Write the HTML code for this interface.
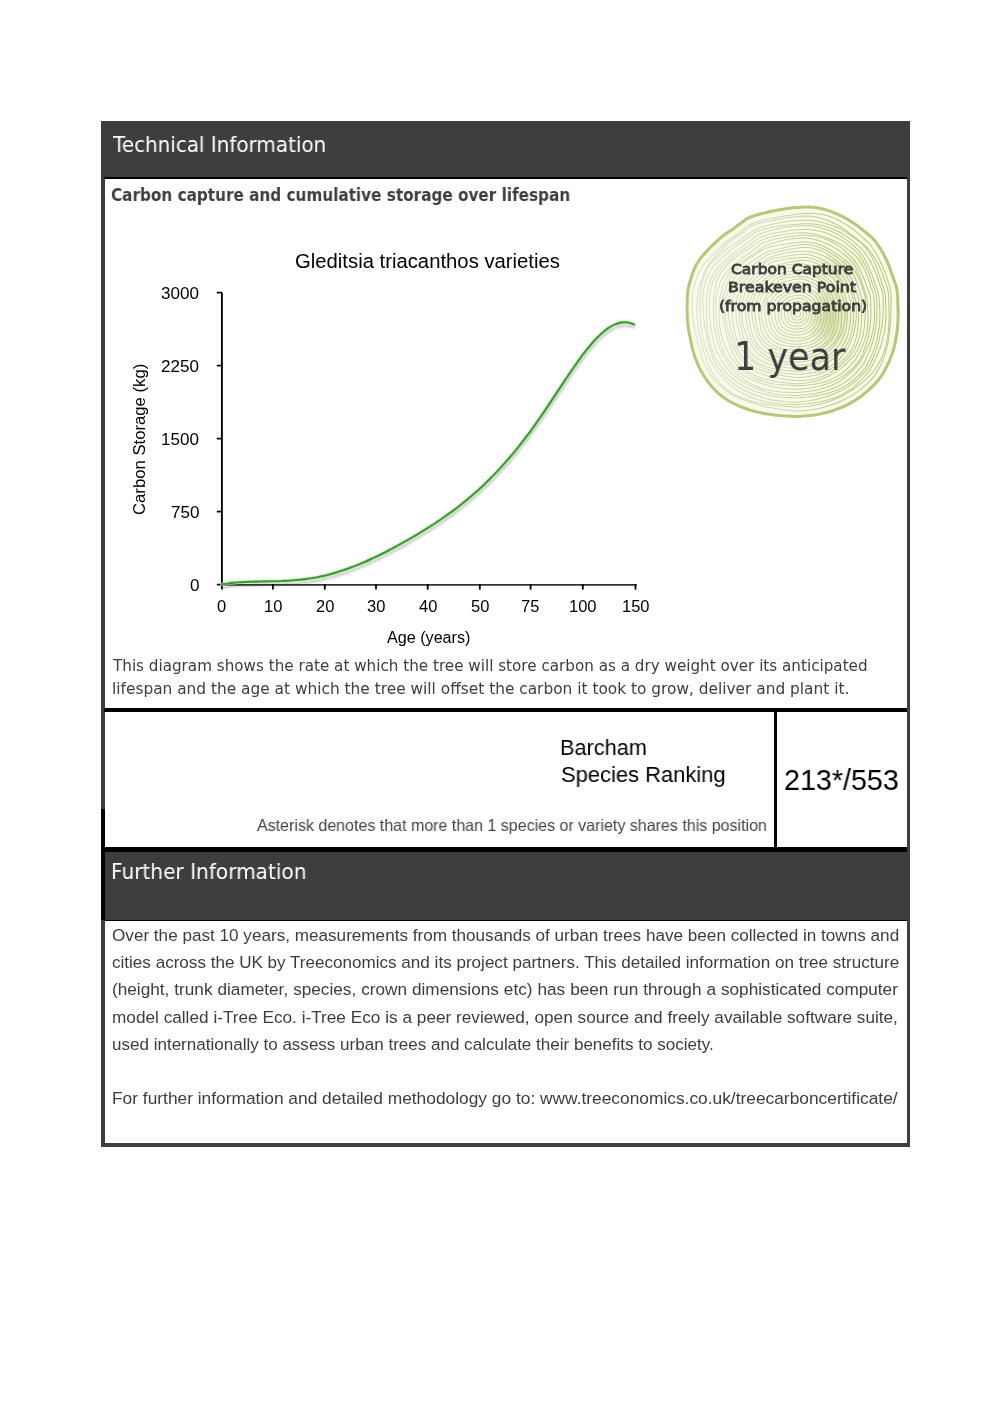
<!DOCTYPE html>
<html>
<head>
<meta charset="utf-8">
<style>
html,body{margin:0;padding:0;background:#fff;}
body{width:1004px;height:1421px;position:relative;overflow:hidden;}
.bx{position:absolute;}
.t{position:absolute;white-space:nowrap;line-height:1;transform-origin:0 0;will-change:transform;}
</style>
</head>
<body>
<!-- frame -->
<div class="bx" style="left:101px;top:121px;width:809px;height:57px;background:#3e3e3e"></div>
<div class="bx" style="left:104px;top:177px;width:803px;height:2px;background:#000"></div>
<div class="bx" style="left:101px;top:178px;width:3.5px;height:631px;background:#3e3e3e"></div>
<div class="bx" style="left:906.8px;top:178px;width:3.3px;height:969px;background:#3e3e3e"></div>
<div class="bx" style="left:104px;top:708.3px;width:803px;height:3.3px;background:#000"></div>
<div class="bx" style="left:773.6px;top:709px;width:3.3px;height:140px;background:#000"></div>
<div class="bx" style="left:101.3px;top:809px;width:3.3px;height:111px;background:#000"></div>
<div class="bx" style="left:101.3px;top:847.3px;width:805.5px;height:4.4px;background:#000"></div>
<div class="bx" style="left:104.5px;top:851.7px;width:802.5px;height:67.9px;background:#3e3e3e"></div>
<div class="bx" style="left:104.5px;top:919.6px;width:802.5px;height:1.3px;background:#000"></div>
<div class="bx" style="left:101px;top:920px;width:3.5px;height:226.6px;background:#3e3e3e"></div>
<div class="bx" style="left:101px;top:1142.9px;width:809px;height:3.7px;background:#3e3e3e"></div>
<svg class="bx" style="left:0;top:0" width="1004" height="1421" viewBox="0 0 1004 1421">
<defs><radialGradient id="gb" cx="0.5" cy="0.5" r="0.5"><stop offset="0" stop-color="#aab550" stop-opacity="0.45"/><stop offset="0.6" stop-color="#aab550" stop-opacity="0.2"/><stop offset="1" stop-color="#aab550" stop-opacity="0"/></radialGradient><linearGradient id="lg" gradientUnits="userSpaceOnUse" x1="690" y1="0" x2="900" y2="0"><stop offset="0" stop-color="#dfe1cc"/><stop offset="0.4" stop-color="#d2d6b0"/><stop offset="0.7" stop-color="#c0c884"/><stop offset="1" stop-color="#bcc47c"/></linearGradient></defs>
<path d="M687.1,312.0 687.1,306.5 687.2,300.9 687.5,295.3 688.0,289.7 689.2,284.2 690.9,278.8 692.5,273.4 694.6,268.2 697.2,263.2 700.3,258.5 704.0,254.2 707.7,250.0 711.6,246.1 715.6,242.3 719.6,238.6 723.8,235.2 728.3,232.1 732.8,229.2 737.1,225.9 741.5,222.7 745.8,219.4 750.7,217.0 755.8,215.2 761.1,213.7 766.3,212.5 771.6,211.3 776.9,210.2 782.2,209.3 787.6,208.4 793.0,207.8 798.5,207.4 804.0,207.0 809.6,207.0 815.2,207.6 820.7,208.5 826.2,209.9 831.5,211.6 836.7,213.8 841.8,216.2 846.8,218.9 851.6,221.8 856.3,224.9 860.8,228.3 865.1,231.9 869.5,235.5 873.7,239.3 877.2,243.8 880.3,248.5 883.2,253.4 885.7,258.5 888.1,263.6 890.1,268.8 891.9,274.0 893.7,279.3 895.7,284.5 897.0,289.9 897.5,295.4 897.8,301.0 897.9,306.5 898.2,312.0 898.1,317.5 897.8,323.0 897.4,328.5 896.7,334.0 895.8,339.5 894.7,345.0 893.3,350.5 891.4,355.8 889.3,361.1 886.9,366.2 884.3,371.3 881.3,376.2 877.8,380.7 874.0,384.9 869.9,388.9 865.6,392.7 861.2,396.2 856.5,399.5 851.7,402.4 846.8,405.1 841.6,407.4 836.4,409.4 831.1,411.2 825.7,412.7 820.3,413.9 814.9,414.9 809.4,415.6 803.9,416.1 798.5,416.5 793.0,416.5 787.5,416.1 782.1,415.8 776.6,415.3 771.2,414.6 765.7,413.8 760.3,412.8 754.8,411.4 749.4,409.9 744.1,408.0 738.8,405.9 733.6,403.5 728.5,400.7 723.7,397.6 719.2,394.0 715.0,390.0 711.0,385.8 707.5,381.2 704.2,376.5 701.3,371.6 698.7,366.4 696.5,361.2 694.5,355.8 692.9,350.4 691.6,344.9 690.5,339.5 689.3,334.0 688.4,328.6 687.8,323.1 687.3,317.5Z" fill="#f9faea"/>
<ellipse cx="830" cy="318" rx="24" ry="38" fill="url(#gb)"/>
<ellipse cx="840" cy="268" rx="30" ry="18" fill="url(#gb)" opacity="0.5"/>
<path d="M794.3,313.9 794.3,313.8 794.3,313.6 794.3,313.5 794.3,313.3 794.3,313.1 794.4,313.0 794.4,312.8 794.5,312.7 794.6,312.5 794.6,312.4 794.7,312.2 794.9,312.1 795.0,312.0 795.1,311.9 795.2,311.8 795.3,311.7 795.5,311.6 795.6,311.5 795.7,311.4 795.9,311.3 796.0,311.2 796.1,311.1 796.3,311.1 796.4,311.0 796.6,311.0 796.7,310.9 796.9,310.9 797.0,310.9 797.2,310.9 797.4,310.9 797.5,310.8 797.7,310.8 797.9,310.9 798.0,310.9 798.2,310.9 798.3,310.9 798.5,311.0 798.7,311.1 798.8,311.1 798.9,311.2 799.1,311.3 799.2,311.4 799.4,311.5 799.5,311.6 799.6,311.7 799.7,311.8 799.8,312.0 799.9,312.1 800.0,312.2 800.1,312.4 800.1,312.5 800.2,312.7 800.2,312.8 800.3,313.0 800.4,313.1 800.4,313.3 800.4,313.5 800.5,313.6 800.5,313.8 800.5,313.9 800.5,314.1 800.5,314.3 800.5,314.4 800.4,314.6 800.4,314.8 800.4,314.9 800.3,315.1 800.3,315.2 800.2,315.4 800.1,315.5 800.1,315.7 800.0,315.8 799.9,316.0 799.8,316.1 799.6,316.2 799.5,316.3 799.4,316.4 799.2,316.5 799.1,316.6 798.9,316.7 798.8,316.7 798.6,316.8 798.5,316.8 798.3,316.9 798.2,316.9 798.0,316.9 797.8,316.9 797.7,317.0 797.5,317.0 797.4,317.0 797.2,317.0 797.0,317.0 796.9,317.0 796.7,317.0 796.6,316.9 796.4,316.9 796.2,316.9 796.1,316.8 795.9,316.8 795.8,316.7 795.6,316.6 795.5,316.6 795.3,316.5 795.2,316.4 795.1,316.3 794.9,316.1 794.8,316.0 794.7,315.9 794.6,315.7 794.6,315.6 794.5,315.4 794.4,315.2 794.4,315.1 794.4,314.9 794.3,314.8 794.3,314.6 794.3,314.4 794.3,314.3 794.3,314.1Z" fill="none" stroke="url(#lg)" stroke-width="1.05"/>
<path d="M790.9,313.9 790.9,313.6 790.9,313.2 790.9,312.9 791.0,312.6 791.1,312.2 791.2,311.9 791.3,311.6 791.4,311.3 791.6,311.0 791.8,310.7 792.0,310.5 792.3,310.3 792.5,310.0 792.7,309.8 793.0,309.6 793.2,309.4 793.5,309.2 793.7,309.0 794.0,308.8 794.2,308.6 794.5,308.5 794.8,308.3 795.1,308.2 795.4,308.1 795.7,308.1 796.0,308.0 796.3,307.9 796.6,307.9 796.9,307.8 797.2,307.8 797.6,307.7 797.9,307.7 798.2,307.7 798.5,307.7 798.9,307.7 799.2,307.8 799.5,307.9 799.8,308.0 800.1,308.2 800.4,308.3 800.7,308.5 801.0,308.7 801.2,308.9 801.5,309.2 801.7,309.4 802.0,309.6 802.2,309.9 802.4,310.2 802.5,310.4 802.7,310.7 802.8,311.0 802.9,311.3 803.0,311.7 803.1,312.0 803.3,312.3 803.3,312.6 803.3,312.9 803.3,313.2 803.3,313.6 803.3,313.9 803.3,314.2 803.3,314.5 803.3,314.8 803.3,315.2 803.2,315.5 803.2,315.8 803.1,316.1 803.0,316.5 802.9,316.8 802.8,317.1 802.6,317.4 802.5,317.7 802.3,317.9 802.0,318.2 801.8,318.4 801.5,318.7 801.3,318.9 801.0,319.0 800.7,319.2 800.4,319.4 800.1,319.5 799.8,319.6 799.5,319.7 799.2,319.8 798.8,319.9 798.5,320.0 798.2,320.0 797.9,320.0 797.6,320.0 797.2,320.0 796.9,320.0 796.6,320.0 796.3,319.9 796.0,319.9 795.6,319.8 795.3,319.7 795.0,319.7 794.7,319.6 794.4,319.5 794.1,319.4 793.8,319.2 793.5,319.1 793.2,318.9 792.9,318.7 792.6,318.5 792.4,318.2 792.2,318.0 792.0,317.7 791.8,317.4 791.7,317.1 791.5,316.8 791.4,316.5 791.3,316.1 791.3,315.8 791.2,315.5 791.1,315.2 791.0,314.9 791.0,314.5 791.0,314.2Z" fill="none" stroke="url(#lg)" stroke-width="1.05"/>
<path d="M787.8,313.8 787.8,313.3 787.8,312.8 787.8,312.4 787.8,311.9 787.9,311.4 788.1,310.9 788.2,310.4 788.4,310.0 788.7,309.5 789.0,309.1 789.3,308.8 789.6,308.4 790.0,308.0 790.3,307.7 790.7,307.4 791.0,307.1 791.4,306.8 791.8,306.5 792.2,306.2 792.5,305.9 792.9,305.6 793.3,305.3 793.8,305.2 794.2,305.0 794.7,304.9 795.2,304.9 795.7,304.8 796.1,304.7 796.6,304.6 797.1,304.6 797.6,304.6 798.1,304.6 798.6,304.6 799.1,304.6 799.6,304.7 800.0,304.8 800.5,305.0 801.0,305.1 801.4,305.4 801.9,305.6 802.3,305.9 802.7,306.2 803.1,306.5 803.4,306.8 803.8,307.1 804.1,307.5 804.4,307.9 804.7,308.3 805.0,308.7 805.2,309.2 805.4,309.6 805.6,310.0 805.8,310.5 806.0,310.9 806.2,311.4 806.3,311.9 806.3,312.4 806.4,312.8 806.4,313.3 806.4,313.8 806.4,314.3 806.4,314.8 806.3,315.3 806.3,315.8 806.2,316.3 806.1,316.7 806.0,317.2 805.8,317.7 805.6,318.2 805.4,318.6 805.2,319.1 804.9,319.5 804.6,319.9 804.3,320.3 803.9,320.6 803.5,321.0 803.1,321.3 802.7,321.5 802.3,321.8 801.8,322.0 801.3,322.1 800.9,322.3 800.4,322.5 800.0,322.6 799.5,322.7 799.0,322.8 798.5,322.9 798.1,322.9 797.6,323.0 797.1,323.0 796.6,323.0 796.1,323.0 795.7,322.9 795.2,322.9 794.7,322.8 794.2,322.7 793.7,322.6 793.3,322.4 792.8,322.3 792.3,322.1 791.8,321.9 791.4,321.7 790.9,321.4 790.5,321.1 790.1,320.8 789.8,320.4 789.4,320.0 789.1,319.6 788.9,319.2 788.7,318.7 788.5,318.2 788.3,317.7 788.2,317.2 788.1,316.7 788.1,316.2 788.0,315.8 787.9,315.3 787.9,314.8 787.8,314.3Z" fill="none" stroke="url(#lg)" stroke-width="1.05"/>
<path d="M784.6,313.8 784.6,313.1 784.6,312.5 784.6,311.8 784.6,311.1 784.7,310.5 784.9,309.8 785.0,309.2 785.2,308.5 785.5,307.9 785.9,307.4 786.3,306.9 786.8,306.4 787.3,305.9 787.8,305.5 788.3,305.1 788.8,304.7 789.3,304.3 789.9,304.0 790.4,303.7 790.9,303.3 791.4,302.9 792.0,302.6 792.6,302.4 793.2,302.2 793.8,302.1 794.5,301.9 795.1,301.8 795.7,301.7 796.3,301.6 797.0,301.6 797.6,301.5 798.3,301.5 798.9,301.5 799.6,301.6 800.2,301.7 800.8,301.9 801.5,302.1 802.1,302.3 802.7,302.6 803.3,302.8 803.9,303.1 804.4,303.5 805.0,303.9 805.5,304.3 806.0,304.7 806.5,305.1 807.0,305.7 807.3,306.2 807.6,306.8 807.9,307.4 808.2,308.1 808.4,308.7 808.6,309.3 808.8,309.9 809.1,310.5 809.2,311.2 809.3,311.8 809.3,312.5 809.3,313.1 809.4,313.8 809.4,314.4 809.3,315.1 809.2,315.7 809.1,316.4 809.0,317.0 808.8,317.6 808.6,318.2 808.4,318.9 808.1,319.5 807.9,320.1 807.6,320.6 807.2,321.2 806.8,321.7 806.4,322.3 806.0,322.7 805.5,323.2 805.0,323.6 804.4,324.0 803.9,324.4 803.3,324.7 802.7,325.0 802.1,325.2 801.4,325.4 800.8,325.6 800.2,325.7 799.5,325.8 798.9,325.9 798.3,326.0 797.6,326.1 797.0,326.1 796.3,326.1 795.7,326.0 795.0,326.0 794.4,325.9 793.7,325.9 793.1,325.7 792.4,325.6 791.8,325.4 791.2,325.1 790.6,324.9 790.0,324.5 789.4,324.2 788.8,323.8 788.3,323.4 787.9,322.9 787.4,322.4 787.0,321.9 786.6,321.3 786.2,320.7 785.9,320.2 785.6,319.5 785.4,318.9 785.2,318.3 785.1,317.6 784.9,317.0 784.8,316.4 784.7,315.7 784.6,315.1 784.6,314.4Z" fill="none" stroke="url(#lg)" stroke-width="1.05"/>
<path d="M781.2,313.7 781.2,312.9 781.2,312.1 781.2,311.2 781.3,310.4 781.5,309.6 781.7,308.8 781.9,308.0 782.2,307.2 782.6,306.5 783.1,305.8 783.6,305.1 784.2,304.5 784.8,304.0 785.4,303.4 786.1,302.9 786.7,302.5 787.4,302.1 788.1,301.7 788.7,301.2 789.4,300.7 790.0,300.3 790.7,299.9 791.4,299.6 792.2,299.4 792.9,299.1 793.7,298.9 794.5,298.8 795.3,298.6 796.0,298.5 796.8,298.4 797.6,298.3 798.5,298.2 799.3,298.3 800.1,298.3 800.9,298.5 801.7,298.7 802.5,298.9 803.3,299.2 804.0,299.6 804.8,299.9 805.5,300.3 806.2,300.8 806.9,301.3 807.6,301.8 808.2,302.3 808.8,302.9 809.3,303.6 809.8,304.3 810.1,305.1 810.5,305.8 810.8,306.6 811.0,307.4 811.3,308.2 811.5,308.9 811.8,309.7 812.0,310.5 812.1,311.3 812.1,312.1 812.1,312.9 812.2,313.7 812.2,314.5 812.1,315.3 812.1,316.1 812.0,316.9 811.8,317.7 811.7,318.5 811.5,319.3 811.2,320.1 810.9,320.9 810.5,321.6 810.2,322.4 809.7,323.1 809.3,323.8 808.7,324.4 808.2,325.0 807.6,325.6 806.9,326.2 806.3,326.7 805.6,327.1 804.8,327.5 804.1,327.9 803.3,328.2 802.5,328.4 801.7,328.6 800.9,328.7 800.1,328.8 799.2,328.9 798.4,329.0 797.6,329.0 796.8,329.0 796.0,328.9 795.2,328.9 794.4,328.9 793.6,328.8 792.8,328.7 792.0,328.5 791.2,328.3 790.4,328.1 789.7,327.8 788.9,327.5 788.2,327.1 787.4,326.7 786.7,326.2 786.1,325.6 785.5,325.1 784.9,324.5 784.4,323.8 783.8,323.2 783.4,322.5 783.0,321.7 782.6,321.0 782.3,320.2 782.0,319.4 781.8,318.6 781.6,317.8 781.4,317.0 781.3,316.2 781.2,315.3 781.2,314.5Z" fill="none" stroke="url(#lg)" stroke-width="1.05"/>
<path d="M778.1,313.6 778.0,312.7 778.0,311.7 778.0,310.7 778.1,309.7 778.2,308.7 778.5,307.7 778.8,306.8 779.2,305.8 779.7,305.0 780.2,304.1 780.9,303.4 781.6,302.7 782.3,302.0 783.0,301.3 783.7,300.6 784.4,300.0 785.2,299.4 786.0,298.9 786.7,298.3 787.5,297.7 788.3,297.1 789.2,296.7 790.1,296.4 791.0,296.2 792.0,296.1 792.9,295.9 793.9,295.8 794.8,295.7 795.8,295.5 796.7,295.5 797.7,295.4 798.6,295.3 799.6,295.3 800.6,295.4 801.6,295.5 802.5,295.7 803.5,296.0 804.4,296.3 805.3,296.8 806.2,297.2 807.0,297.7 807.8,298.3 808.6,298.9 809.4,299.6 810.2,300.2 810.9,300.9 811.5,301.7 812.1,302.5 812.6,303.3 813.1,304.2 813.5,305.1 813.9,306.0 814.3,306.9 814.6,307.8 815.0,308.7 815.2,309.7 815.3,310.7 815.3,311.7 815.3,312.7 815.3,313.6 815.2,314.6 815.1,315.6 815.0,316.6 814.9,317.5 814.7,318.5 814.5,319.4 814.3,320.4 814.0,321.3 813.6,322.3 813.2,323.2 812.7,324.1 812.2,324.9 811.6,325.7 810.9,326.4 810.2,327.1 809.4,327.8 808.6,328.4 807.8,328.9 807.0,329.4 806.1,329.9 805.2,330.3 804.3,330.7 803.4,331.0 802.4,331.3 801.5,331.6 800.6,331.8 799.6,332.0 798.6,332.1 797.7,332.2 796.7,332.2 795.7,332.2 794.8,332.1 793.8,332.0 792.8,331.9 791.9,331.7 790.9,331.5 789.9,331.2 789.0,331.0 788.1,330.6 787.1,330.3 786.2,329.8 785.3,329.4 784.4,328.8 783.6,328.2 782.8,327.5 782.1,326.7 781.5,325.9 781.0,325.1 780.5,324.2 780.1,323.3 779.7,322.3 779.4,321.3 779.2,320.4 779.0,319.4 778.8,318.4 778.6,317.5 778.5,316.5 778.3,315.6 778.2,314.6Z" fill="none" stroke="url(#lg)" stroke-width="1.05"/>
<path d="M774.8,313.6 774.7,312.4 774.7,311.3 774.7,310.1 774.8,309.0 775.0,307.8 775.4,306.7 775.7,305.6 776.1,304.5 776.7,303.5 777.4,302.5 778.1,301.6 778.9,300.8 779.7,299.9 780.5,299.2 781.4,298.4 782.2,297.6 783.1,297.0 784.1,296.4 785.0,295.7 785.9,295.0 786.8,294.4 787.8,293.9 788.9,293.6 790.0,293.3 791.1,293.2 792.2,293.0 793.3,292.8 794.4,292.7 795.5,292.5 796.6,292.4 797.7,292.3 798.8,292.2 800.0,292.2 801.1,292.2 802.3,292.4 803.4,292.6 804.5,293.0 805.6,293.4 806.6,293.9 807.6,294.4 808.6,295.0 809.6,295.7 810.5,296.4 811.4,297.2 812.3,297.9 813.2,298.7 813.9,299.6 814.6,300.5 815.2,301.5 815.7,302.5 816.3,303.6 816.7,304.6 817.1,305.7 817.5,306.8 817.9,307.9 818.2,309.0 818.2,310.2 818.2,311.3 818.2,312.5 818.2,313.6 818.1,314.7 818.0,315.8 817.9,317.0 817.7,318.1 817.6,319.2 817.3,320.3 817.1,321.5 816.7,322.6 816.3,323.6 815.8,324.7 815.3,325.7 814.7,326.7 813.9,327.7 813.1,328.5 812.3,329.3 811.4,330.1 810.5,330.8 809.5,331.4 808.5,332.0 807.5,332.5 806.5,333.0 805.4,333.5 804.4,333.9 803.3,334.3 802.2,334.6 801.1,334.8 800.0,335.0 798.8,335.2 797.7,335.3 796.6,335.3 795.4,335.2 794.3,335.1 793.2,335.0 792.1,334.8 790.9,334.6 789.8,334.4 788.7,334.1 787.6,333.8 786.5,333.4 785.4,333.0 784.3,332.5 783.2,331.9 782.2,331.3 781.3,330.6 780.4,329.7 779.6,328.9 778.9,327.9 778.3,326.9 777.7,325.8 777.2,324.8 776.8,323.7 776.5,322.5 776.2,321.4 775.9,320.3 775.7,319.2 775.5,318.1 775.2,317.0 775.1,315.9 774.9,314.7Z" fill="none" stroke="url(#lg)" stroke-width="1.05"/>
<path d="M771.2,313.5 771.2,312.2 771.3,310.9 771.4,309.6 771.6,308.2 771.9,307.0 772.3,305.7 772.7,304.4 773.2,303.2 773.8,302.0 774.5,300.9 775.4,299.9 776.3,298.9 777.2,297.9 778.2,297.1 779.1,296.2 780.2,295.5 781.3,294.8 782.4,294.2 783.4,293.4 784.4,292.7 785.5,292.0 786.6,291.5 787.8,291.0 789.0,290.7 790.2,290.4 791.5,290.1 792.7,289.7 793.9,289.5 795.2,289.2 796.4,289.0 797.7,288.8 799.0,288.7 800.4,288.7 801.7,288.8 803.0,289.0 804.3,289.4 805.5,289.8 806.8,290.3 808.0,290.9 809.1,291.6 810.3,292.2 811.4,293.0 812.5,293.7 813.5,294.6 814.6,295.4 815.6,296.3 816.4,297.3 817.2,298.5 817.8,299.7 818.4,300.9 818.9,302.1 819.3,303.4 819.6,304.6 820.0,305.9 820.4,307.1 820.6,308.4 820.7,309.7 820.7,311.0 820.8,312.3 820.8,313.5 820.9,314.8 820.8,316.1 820.8,317.4 820.7,318.7 820.5,320.0 820.3,321.3 820.0,322.6 819.5,323.8 819.0,325.0 818.4,326.2 817.8,327.4 817.1,328.6 816.3,329.6 815.4,330.6 814.5,331.6 813.5,332.5 812.5,333.4 811.4,334.2 810.3,334.9 809.2,335.6 808.0,336.2 806.7,336.7 805.5,337.1 804.2,337.4 802.9,337.7 801.6,337.9 800.3,338.0 799.0,338.0 797.7,338.1 796.4,338.0 795.2,337.9 793.9,337.8 792.6,337.6 791.4,337.5 790.1,337.3 788.8,337.1 787.5,336.8 786.2,336.5 785.0,336.1 783.7,335.6 782.5,335.0 781.3,334.4 780.2,333.6 779.2,332.7 778.2,331.8 777.3,330.8 776.5,329.7 775.7,328.6 775.0,327.5 774.4,326.3 773.8,325.1 773.3,323.9 772.8,322.6 772.4,321.3 772.1,320.0 771.8,318.8 771.5,317.5 771.4,316.2 771.2,314.8Z" fill="none" stroke="url(#lg)" stroke-width="1.05"/>
<path d="M768.3,313.5 768.3,312.0 768.3,310.5 768.4,309.0 768.5,307.6 768.8,306.1 769.3,304.7 769.7,303.3 770.3,301.9 771.0,300.6 771.8,299.3 772.7,298.2 773.7,297.1 774.7,296.0 775.7,294.9 776.7,293.9 777.8,292.9 779.0,292.1 780.2,291.3 781.3,290.4 782.5,289.5 783.7,288.7 785.0,288.1 786.4,287.6 787.8,287.3 789.2,287.1 790.6,286.8 792.1,286.6 793.5,286.4 794.9,286.2 796.3,286.0 797.8,285.9 799.2,285.8 800.7,285.8 802.2,285.9 803.6,286.1 805.1,286.5 806.5,287.0 807.9,287.6 809.2,288.2 810.5,289.0 811.7,289.8 812.9,290.6 814.1,291.6 815.2,292.5 816.4,293.4 817.5,294.4 818.5,295.6 819.3,296.8 820.1,298.0 820.9,299.3 821.5,300.6 822.1,302.0 822.7,303.3 823.2,304.7 823.7,306.1 824.0,307.6 824.1,309.1 824.2,310.5 824.1,312.0 824.2,313.5 824.1,314.9 824.0,316.4 823.9,317.8 823.7,319.3 823.5,320.8 823.2,322.2 822.9,323.7 822.4,325.1 821.8,326.5 821.2,327.8 820.5,329.2 819.7,330.4 818.7,331.6 817.6,332.7 816.5,333.7 815.4,334.6 814.1,335.5 812.9,336.3 811.6,337.1 810.3,337.8 809.0,338.4 807.7,338.9 806.3,339.5 804.9,339.9 803.5,340.3 802.1,340.6 800.7,340.9 799.2,341.0 797.8,341.2 796.3,341.2 794.9,341.1 793.4,341.0 792.0,340.8 790.5,340.6 789.1,340.4 787.6,340.2 786.2,339.8 784.7,339.5 783.3,339.0 781.8,338.5 780.4,337.9 779.0,337.2 777.7,336.4 776.5,335.4 775.4,334.4 774.4,333.2 773.4,332.0 772.6,330.7 771.9,329.3 771.3,327.9 770.8,326.5 770.4,325.0 770.0,323.6 769.7,322.1 769.4,320.7 769.1,319.3 768.8,317.8 768.6,316.4 768.5,314.9Z" fill="none" stroke="url(#lg)" stroke-width="1.05"/>
<path d="M764.9,313.4 764.9,311.8 764.8,310.1 764.8,308.4 764.9,306.8 765.2,305.1 765.7,303.5 766.2,301.9 766.8,300.3 767.6,298.9 768.6,297.5 769.8,296.3 771.0,295.1 772.2,294.0 773.5,293.0 774.7,291.9 776.0,291.0 777.3,290.1 778.7,289.3 779.9,288.3 781.2,287.4 782.4,286.4 783.8,285.6 785.3,285.1 786.8,284.6 788.4,284.2 789.9,283.9 791.5,283.6 793.0,283.3 794.6,283.1 796.2,282.9 797.8,282.8 799.4,282.7 801.0,282.7 802.7,282.8 804.3,283.0 805.9,283.4 807.5,283.8 809.1,284.4 810.6,285.0 812.1,285.7 813.6,286.6 815.0,287.5 816.3,288.5 817.6,289.6 818.9,290.7 820.1,291.9 821.1,293.2 821.9,294.7 822.7,296.2 823.4,297.7 824.0,299.2 824.6,300.8 825.1,302.3 825.6,303.8 826.2,305.4 826.6,306.9 826.8,308.6 826.9,310.2 826.9,311.8 826.9,313.4 826.9,315.0 826.7,316.6 826.6,318.2 826.3,319.8 826.0,321.4 825.7,323.0 825.3,324.6 824.8,326.1 824.2,327.7 823.5,329.2 822.8,330.7 822.1,332.2 821.1,333.6 820.0,334.9 818.9,336.1 817.7,337.3 816.4,338.4 815.0,339.3 813.6,340.2 812.1,341.0 810.5,341.6 809.0,342.2 807.4,342.6 805.8,343.1 804.2,343.4 802.6,343.7 801.0,343.9 799.4,344.0 797.8,344.2 796.2,344.2 794.6,344.1 793.0,344.0 791.3,343.9 789.7,343.7 788.1,343.4 786.6,343.0 785.0,342.6 783.4,342.1 781.9,341.5 780.4,340.8 778.9,340.0 777.4,339.2 776.0,338.3 774.7,337.3 773.4,336.2 772.2,335.0 771.1,333.7 770.1,332.4 769.2,331.0 768.4,329.5 767.6,327.9 767.1,326.4 766.6,324.8 766.2,323.1 765.9,321.5 765.6,319.9 765.3,318.3 765.1,316.7 765.0,315.0Z" fill="none" stroke="url(#lg)" stroke-width="1.05"/>
<path d="M761.6,313.4 761.8,311.6 761.9,309.8 762.1,308.0 762.3,306.2 762.7,304.4 763.3,302.7 763.8,301.0 764.4,299.3 765.3,297.7 766.2,296.1 767.3,294.7 768.5,293.4 769.7,292.0 771.0,290.8 772.3,289.6 773.7,288.5 775.1,287.5 776.6,286.6 778.0,285.6 779.4,284.5 780.8,283.5 782.4,282.7 784.0,282.1 785.7,281.5 787.4,281.1 789.1,280.6 790.8,280.2 792.5,279.8 794.3,279.5 796.0,279.2 797.8,279.1 799.6,278.9 801.5,279.0 803.3,279.2 805.1,279.6 806.8,280.2 808.5,280.8 810.2,281.6 811.8,282.5 813.4,283.4 814.9,284.3 816.4,285.4 817.8,286.4 819.3,287.6 820.7,288.7 822.1,289.9 823.2,291.4 824.2,292.9 825.1,294.5 825.9,296.1 826.6,297.8 827.2,299.5 827.7,301.2 828.3,302.9 828.9,304.6 829.3,306.3 829.5,308.1 829.6,309.8 829.7,311.6 829.9,313.4 830.0,315.1 830.0,316.9 829.9,318.7 829.8,320.5 829.5,322.3 829.2,324.1 828.8,325.9 828.1,327.6 827.4,329.3 826.6,331.0 825.7,332.6 824.7,334.2 823.5,335.6 822.2,336.9 820.9,338.2 819.5,339.4 818.1,340.6 816.6,341.6 815.1,342.6 813.4,343.5 811.8,344.2 810.1,344.9 808.3,345.4 806.6,345.8 804.8,346.2 803.1,346.4 801.3,346.5 799.6,346.6 797.8,346.7 796.1,346.7 794.3,346.5 792.6,346.4 790.8,346.3 789.1,346.2 787.3,346.0 785.5,345.8 783.7,345.5 781.9,345.1 780.1,344.6 778.4,343.9 776.7,343.2 775.0,342.3 773.4,341.3 772.0,340.1 770.6,338.8 769.4,337.4 768.2,335.9 767.1,334.3 766.2,332.7 765.3,331.1 764.6,329.4 763.9,327.7 763.3,325.9 762.9,324.1 762.5,322.3 762.1,320.6 761.8,318.8 761.7,317.0 761.6,315.2Z" fill="none" stroke="url(#lg)" stroke-width="1.05"/>
<path d="M758.9,313.3 758.9,311.4 758.9,309.4 758.8,307.4 758.9,305.4 759.2,303.5 759.8,301.5 760.2,299.6 760.9,297.7 761.8,295.9 762.9,294.3 764.3,292.7 765.6,291.3 767.0,289.9 768.5,288.6 769.9,287.3 771.4,286.1 773.0,285.0 774.6,283.9 776.1,282.8 777.6,281.6 779.1,280.3 780.8,279.4 782.6,278.8 784.5,278.2 786.4,277.8 788.3,277.5 790.2,277.2 792.1,277.0 794.0,276.8 795.9,276.7 797.8,276.6 799.8,276.5 801.7,276.6 803.7,276.8 805.6,277.2 807.5,277.6 809.4,278.2 811.2,278.9 813.1,279.7 814.8,280.6 816.5,281.5 818.2,282.6 819.8,283.8 821.3,285.1 822.9,286.4 824.3,287.7 825.5,289.3 826.6,291.0 827.6,292.7 828.5,294.5 829.3,296.3 830.1,298.1 830.8,299.9 831.5,301.7 832.3,303.5 832.8,305.4 833.1,307.4 833.2,309.4 833.3,311.3 833.3,313.3 833.3,315.2 833.1,317.2 832.9,319.1 832.5,321.1 832.1,323.0 831.7,324.9 831.1,326.8 830.4,328.7 829.7,330.5 828.8,332.3 827.9,334.1 826.9,335.8 825.7,337.4 824.4,338.9 823.0,340.3 821.5,341.7 819.9,342.9 818.2,344.0 816.5,345.0 814.7,345.9 812.9,346.6 811.1,347.3 809.2,347.9 807.3,348.4 805.5,348.8 803.6,349.2 801.7,349.6 799.8,349.8 797.8,350.1 795.9,350.2 794.0,350.1 792.0,350.1 790.1,350.0 788.1,349.8 786.2,349.6 784.2,349.2 782.3,348.7 780.4,348.1 778.5,347.4 776.7,346.6 774.8,345.7 773.1,344.7 771.3,343.6 769.8,342.3 768.2,341.0 766.8,339.5 765.5,337.9 764.4,336.2 763.3,334.5 762.4,332.6 761.7,330.7 761.1,328.8 760.6,326.9 760.2,324.9 759.9,322.9 759.6,321.0 759.4,319.1 759.2,317.2 759.0,315.2Z" fill="none" stroke="url(#lg)" stroke-width="1.05"/>
<path d="M754.9,313.2 754.8,311.1 754.8,308.9 755.0,306.8 755.2,304.6 755.8,302.5 756.5,300.5 757.2,298.4 758.1,296.5 759.3,294.6 760.6,292.9 762.0,291.3 763.5,289.8 765.0,288.3 766.5,286.9 768.0,285.4 769.5,284.1 771.2,282.9 772.9,281.7 774.5,280.4 776.1,279.1 777.7,277.8 779.6,276.9 781.6,276.2 783.6,275.7 785.6,275.3 787.6,274.8 789.6,274.4 791.7,274.1 793.7,273.7 795.8,273.4 797.9,273.2 800.0,272.9 802.2,272.8 804.3,272.9 806.5,273.2 808.6,273.7 810.7,274.3 812.7,275.2 814.6,276.2 816.5,277.3 818.3,278.5 820.1,279.8 821.7,281.2 823.3,282.7 824.9,284.1 826.5,285.6 827.8,287.3 828.9,289.2 830.0,291.0 831.0,292.9 831.9,294.8 832.7,296.8 833.4,298.8 834.1,300.8 834.8,302.8 835.3,304.8 835.5,307.0 835.5,309.1 835.5,311.2 835.5,313.2 835.5,315.3 835.4,317.4 835.2,319.5 835.0,321.6 834.8,323.7 834.4,325.8 834.0,327.9 833.4,330.0 832.7,332.1 831.9,334.1 831.0,336.1 829.9,338.0 828.5,339.7 827.0,341.4 825.4,342.9 823.7,344.3 822.0,345.6 820.1,346.8 818.3,347.8 816.3,348.8 814.3,349.7 812.3,350.4 810.3,351.1 808.3,351.7 806.2,352.2 804.1,352.6 802.1,352.8 800.0,353.0 797.9,353.1 795.8,353.1 793.7,352.8 791.6,352.7 789.6,352.4 787.6,352.0 785.5,351.7 783.4,351.3 781.4,350.8 779.3,350.2 777.3,349.6 775.2,348.8 773.2,348.0 771.2,347.1 769.2,346.0 767.5,344.7 765.8,343.2 764.2,341.7 762.8,339.9 761.5,338.1 760.4,336.2 759.4,334.2 758.6,332.2 757.9,330.1 757.3,328.0 756.8,325.9 756.4,323.8 755.9,321.7 755.5,319.6 755.2,317.5 755.0,315.4Z" fill="none" stroke="url(#lg)" stroke-width="1.05"/>
<path d="M751.8,313.2 751.8,310.9 751.8,308.6 751.9,306.2 752.1,303.9 752.7,301.7 753.4,299.5 754.1,297.2 754.9,295.0 756.0,293.0 757.3,291.0 758.7,289.2 760.2,287.5 761.8,285.8 763.4,284.2 765.1,282.6 766.8,281.2 768.7,279.9 770.6,278.7 772.4,277.5 774.3,276.2 776.2,274.9 778.2,274.1 780.4,273.5 782.6,273.0 784.8,272.6 786.9,272.1 789.1,271.7 791.3,271.3 793.5,270.9 795.7,270.7 797.9,270.4 800.2,270.2 802.5,270.1 804.8,270.3 807.0,270.6 809.3,271.2 811.5,271.9 813.6,272.9 815.7,273.9 817.7,275.0 819.7,276.2 821.6,277.5 823.4,278.9 825.3,280.3 827.1,281.7 828.9,283.2 830.5,285.0 831.8,286.9 833.1,288.8 834.2,290.9 835.2,293.0 836.0,295.2 836.7,297.4 837.4,299.6 838.2,301.8 838.6,304.0 838.7,306.4 838.7,308.7 838.7,310.9 838.7,313.2 838.6,315.4 838.5,317.7 838.3,319.9 838.1,322.2 837.7,324.5 837.3,326.7 836.8,329.0 836.0,331.2 835.1,333.3 834.1,335.4 833.0,337.4 831.7,339.4 830.2,341.2 828.6,342.9 827.0,344.5 825.2,346.0 823.4,347.4 821.5,348.8 819.6,350.1 817.6,351.2 815.6,352.3 813.5,353.2 811.3,354.1 809.2,354.8 806.9,355.4 804.7,355.8 802.4,356.1 800.2,356.3 797.9,356.5 795.6,356.4 793.4,356.2 791.1,356.0 788.9,355.8 786.7,355.5 784.4,355.1 782.1,354.7 779.9,354.2 777.6,353.6 775.4,352.9 773.2,352.1 771.0,351.1 768.9,350.0 766.9,348.6 765.1,347.1 763.4,345.4 761.9,343.6 760.5,341.6 759.3,339.6 758.2,337.5 757.2,335.4 756.3,333.2 755.6,331.0 754.9,328.8 754.3,326.6 753.7,324.4 753.2,322.2 752.7,320.0 752.3,317.7 752.0,315.5Z" fill="none" stroke="url(#lg)" stroke-width="1.05"/>
<path d="M748.5,313.1 748.6,310.7 748.7,308.2 748.9,305.7 749.2,303.3 749.9,300.9 750.7,298.6 751.5,296.2 752.5,294.0 753.7,291.8 755.1,289.8 756.6,287.9 758.2,286.0 759.9,284.2 761.5,282.5 763.2,280.8 765.0,279.2 766.9,277.8 768.9,276.4 770.7,275.0 772.6,273.5 774.6,272.0 776.7,271.0 779.0,270.2 781.4,269.6 783.7,269.1 786.0,268.6 788.4,268.1 790.7,267.7 793.1,267.2 795.5,266.9 797.9,266.7 800.4,266.4 802.9,266.4 805.4,266.6 807.9,267.0 810.3,267.7 812.6,268.5 814.9,269.6 817.1,270.8 819.2,272.1 821.3,273.5 823.2,275.0 825.1,276.6 827.0,278.2 828.9,279.8 830.7,281.4 832.3,283.4 833.7,285.4 835.0,287.5 836.2,289.7 837.2,291.9 838.2,294.1 839.0,296.4 839.8,298.7 840.7,301.0 841.2,303.4 841.4,305.9 841.5,308.3 841.5,310.7 841.6,313.1 841.6,315.5 841.5,318.0 841.4,320.4 841.3,322.8 841.0,325.3 840.6,327.8 840.1,330.2 839.3,332.6 838.4,335.0 837.4,337.3 836.2,339.5 834.8,341.7 833.2,343.6 831.4,345.4 829.5,347.1 827.5,348.7 825.5,350.1 823.4,351.5 821.3,352.7 819.1,353.9 816.8,354.9 814.5,355.8 812.2,356.6 809.9,357.3 807.5,357.8 805.1,358.3 802.7,358.6 800.3,358.8 797.9,358.9 795.5,358.8 793.2,358.6 790.8,358.4 788.4,358.2 786.0,357.9 783.6,357.6 781.2,357.2 778.8,356.7 776.4,356.1 773.9,355.5 771.5,354.7 769.1,353.7 766.8,352.6 764.5,351.3 762.5,349.7 760.6,348.0 758.8,346.1 757.3,344.1 755.9,341.9 754.6,339.6 753.6,337.3 752.7,334.9 751.9,332.5 751.2,330.1 750.6,327.7 750.1,325.3 749.6,322.9 749.2,320.5 748.9,318.0 748.6,315.6Z" fill="none" stroke="url(#lg)" stroke-width="1.05"/>
<path d="M745.9,313.1 745.9,310.5 746.0,307.9 746.0,305.2 746.2,302.6 746.6,300.0 747.3,297.4 747.9,294.8 748.7,292.3 749.8,289.9 751.2,287.6 752.9,285.5 754.7,283.5 756.6,281.6 758.5,279.9 760.5,278.2 762.6,276.6 764.7,275.2 767.0,273.9 769.0,272.5 771.1,271.0 773.2,269.4 775.5,268.3 777.9,267.4 780.3,266.7 782.8,266.1 785.3,265.6 787.8,265.1 790.3,264.6 792.8,264.3 795.4,264.1 798.0,264.0 800.6,263.9 803.2,264.0 805.7,264.4 808.3,264.9 810.8,265.6 813.3,266.4 815.7,267.4 818.1,268.5 820.5,269.6 822.8,270.9 825.1,272.2 827.2,273.7 829.4,275.3 831.5,276.9 833.5,278.7 835.2,280.8 836.7,283.0 838.0,285.4 839.2,287.8 840.2,290.2 841.1,292.7 841.9,295.2 842.8,297.7 843.7,300.1 844.4,302.6 844.7,305.2 844.8,307.9 844.9,310.5 845.1,313.1 845.1,315.7 845.0,318.3 844.7,320.9 844.3,323.5 843.8,326.0 843.2,328.6 842.4,331.1 841.4,333.5 840.3,335.9 839.1,338.3 837.8,340.6 836.4,342.9 834.8,345.0 833.0,347.0 831.2,348.9 829.3,350.7 827.3,352.4 825.1,354.0 822.9,355.4 820.6,356.7 818.2,357.8 815.7,358.8 813.2,359.6 810.7,360.2 808.2,360.8 805.6,361.2 803.1,361.6 800.5,361.8 798.0,362.0 795.4,362.1 792.8,362.0 790.2,362.0 787.6,361.9 785.0,361.7 782.4,361.5 779.8,361.0 777.2,360.4 774.6,359.7 772.1,358.8 769.6,357.7 767.2,356.4 764.9,355.0 762.6,353.5 760.6,351.7 758.7,349.7 756.9,347.7 755.3,345.5 753.7,343.3 752.3,341.0 751.1,338.6 750.0,336.2 749.1,333.7 748.3,331.1 747.7,328.5 747.2,326.0 746.7,323.4 746.4,320.8 746.1,318.2 746.0,315.7Z" fill="none" stroke="url(#lg)" stroke-width="1.05"/>
<path d="M741.7,313.0 741.7,310.2 741.8,307.4 742.0,304.6 742.4,301.8 743.0,299.0 743.9,296.3 744.7,293.6 745.7,290.9 747.0,288.4 748.6,286.0 750.4,283.9 752.3,281.8 754.2,279.8 756.3,277.9 758.3,276.1 760.5,274.4 762.9,273.0 765.2,271.7 767.5,270.2 769.7,268.7 771.9,267.2 774.4,266.1 776.9,265.2 779.5,264.5 782.1,263.9 784.7,263.2 787.3,262.6 789.9,262.0 792.6,261.4 795.3,261.0 798.0,260.7 800.8,260.4 803.6,260.4 806.4,260.6 809.1,261.1 811.9,261.8 814.5,262.7 817.1,263.8 819.7,265.1 822.2,266.4 824.6,267.8 827.0,269.3 829.3,271.0 831.5,272.7 833.8,274.4 836.0,276.3 837.8,278.5 839.4,280.9 840.8,283.4 842.0,286.0 843.1,288.6 844.0,291.3 844.7,294.0 845.4,296.7 846.3,299.3 846.8,302.0 847.0,304.8 847.0,307.6 847.1,310.3 847.2,313.0 847.2,315.7 847.1,318.5 847.0,321.2 846.7,323.9 846.3,326.7 845.8,329.4 845.1,332.1 844.2,334.8 843.1,337.4 841.9,339.9 840.6,342.4 839.1,344.8 837.3,347.1 835.4,349.2 833.5,351.2 831.4,353.2 829.3,355.0 827.0,356.7 824.7,358.3 822.3,359.8 819.7,361.1 817.1,362.1 814.5,363.1 811.8,363.8 809.0,364.4 806.3,364.8 803.5,365.1 800.7,365.2 798.0,365.3 795.3,365.2 792.5,364.9 789.8,364.7 787.1,364.4 784.4,364.1 781.7,363.7 778.9,363.2 776.2,362.6 773.5,361.9 770.8,361.0 768.1,360.0 765.6,358.7 763.0,357.3 760.7,355.7 758.5,353.8 756.5,351.8 754.6,349.6 752.9,347.3 751.3,345.0 749.8,342.5 748.5,340.0 747.3,337.5 746.2,334.8 745.2,332.2 744.4,329.5 743.7,326.8 743.0,324.1 742.5,321.3 742.1,318.6 741.8,315.8Z" fill="none" stroke="url(#lg)" stroke-width="1.05"/>
<path d="M739.2,312.9 739.2,310.0 739.2,307.1 739.3,304.1 739.6,301.1 740.2,298.2 741.2,295.4 742.1,292.6 743.2,289.8 744.7,287.2 746.3,284.7 748.2,282.5 750.1,280.2 752.1,278.1 754.1,276.0 756.1,274.0 758.3,272.0 760.5,270.3 762.9,268.6 765.2,266.8 767.5,265.1 769.8,263.3 772.4,262.1 775.2,261.2 778.1,260.5 780.9,260.0 783.8,259.5 786.6,259.0 789.4,258.6 792.3,258.2 795.1,257.9 798.0,257.7 801.0,257.4 803.9,257.4 806.9,257.6 809.8,258.1 812.7,258.9 815.5,259.8 818.2,261.0 820.9,262.4 823.4,263.9 825.9,265.6 828.3,267.3 830.6,269.2 832.9,271.1 835.1,273.0 837.4,274.9 839.3,277.2 841.0,279.6 842.6,282.1 844.0,284.7 845.4,287.3 846.6,290.0 847.6,292.8 848.6,295.5 849.8,298.3 850.5,301.2 850.7,304.1 850.8,307.1 850.8,310.0 850.8,312.9 850.8,315.9 850.6,318.8 850.3,321.7 850.0,324.6 849.6,327.5 849.1,330.5 848.4,333.4 847.4,336.2 846.3,339.0 845.1,341.8 843.6,344.5 842.0,347.0 840.1,349.3 837.9,351.5 835.7,353.5 833.3,355.3 830.9,357.1 828.4,358.7 825.8,360.2 823.2,361.5 820.5,362.7 817.8,363.8 815.1,364.8 812.3,365.7 809.5,366.5 806.6,367.1 803.8,367.6 800.9,367.9 798.0,368.2 795.1,368.2 792.2,368.0 789.4,367.8 786.5,367.5 783.6,367.1 780.7,366.8 777.8,366.2 774.9,365.6 772.0,364.8 769.1,364.0 766.2,363.0 763.4,361.8 760.6,360.5 757.9,358.9 755.4,357.0 753.2,354.8 751.1,352.6 749.2,350.1 747.6,347.5 746.2,344.7 745.0,341.9 743.9,339.0 743.1,336.1 742.3,333.2 741.8,330.3 741.2,327.4 740.6,324.5 740.1,321.7 739.7,318.8 739.4,315.9Z" fill="none" stroke="url(#lg)" stroke-width="1.05"/>
<path d="M735.9,312.9 735.8,309.8 735.9,306.7 736.0,303.5 736.4,300.4 737.1,297.4 738.1,294.4 739.0,291.4 740.1,288.4 741.6,285.7 743.2,283.0 745.2,280.5 747.2,278.2 749.2,275.8 751.4,273.6 753.5,271.5 755.8,269.4 758.3,267.6 760.9,266.0 763.3,264.2 765.8,262.4 768.3,260.6 771.2,259.4 774.1,258.5 777.1,257.8 780.1,257.3 783.1,256.7 786.0,256.2 789.0,255.7 792.0,255.2 795.0,254.9 798.0,254.6 801.1,254.3 804.3,254.3 807.4,254.6 810.5,255.1 813.5,256.0 816.4,257.0 819.3,258.3 822.1,259.7 824.8,261.3 827.4,263.0 830.0,264.8 832.5,266.7 834.9,268.6 837.4,270.5 839.8,272.5 841.9,274.9 843.7,277.5 845.4,280.1 847.0,282.9 848.4,285.7 849.6,288.6 850.6,291.5 851.6,294.5 852.7,297.4 853.4,300.5 853.6,303.6 853.6,306.7 853.6,309.8 853.7,312.9 853.6,316.0 853.5,319.0 853.3,322.1 852.9,325.2 852.5,328.3 851.9,331.4 851.2,334.4 850.1,337.4 848.9,340.4 847.5,343.2 845.9,346.0 844.2,348.6 842.1,351.0 839.9,353.3 837.5,355.4 835.1,357.4 832.6,359.3 830.0,361.0 827.4,362.7 824.7,364.2 821.9,365.6 819.0,366.8 816.1,367.9 813.2,368.9 810.2,369.7 807.2,370.3 804.2,370.8 801.1,371.1 798.0,371.3 795.0,371.3 791.9,371.0 788.9,370.8 785.9,370.5 782.8,370.2 779.7,369.8 776.7,369.3 773.6,368.6 770.5,367.9 767.4,367.0 764.4,365.9 761.4,364.6 758.5,363.1 755.7,361.4 753.2,359.3 750.9,357.0 748.7,354.5 746.9,351.8 745.2,349.1 743.7,346.2 742.4,343.2 741.3,340.2 740.3,337.2 739.5,334.2 738.8,331.2 738.1,328.1 737.4,325.1 736.9,322.1 736.4,319.0 736.1,316.0Z" fill="none" stroke="url(#lg)" stroke-width="1.05"/>
<path d="M732.3,312.8 732.3,309.5 732.2,306.2 732.3,302.9 732.5,299.6 733.2,296.3 734.1,293.1 735.0,289.8 736.2,286.7 737.8,283.8 739.7,281.0 742.0,278.5 744.4,276.2 746.9,274.0 749.4,271.9 751.9,269.9 754.5,268.0 757.2,266.3 759.9,264.7 762.4,262.8 764.9,260.9 767.4,258.9 770.2,257.4 773.1,256.2 776.2,255.3 779.2,254.5 782.3,253.7 785.4,253.1 788.5,252.5 791.7,252.0 794.9,251.7 798.1,251.5 801.3,251.2 804.6,251.3 807.9,251.5 811.1,252.0 814.4,252.8 817.6,253.7 820.7,254.8 823.7,256.1 826.7,257.5 829.7,259.2 832.5,261.0 835.2,263.0 837.8,265.1 840.3,267.3 842.8,269.7 844.7,272.4 846.4,275.3 847.9,278.4 849.3,281.4 850.5,284.5 851.6,287.6 852.6,290.7 853.6,293.8 854.8,296.8 855.6,299.9 855.9,303.2 856.1,306.4 856.2,309.6 856.3,312.8 856.3,316.1 856.1,319.3 855.8,322.5 855.3,325.7 854.7,328.9 854.0,332.0 853.2,335.2 852.1,338.3 850.9,341.4 849.6,344.4 848.1,347.4 846.6,350.4 844.6,353.1 842.5,355.7 840.3,358.2 837.8,360.6 835.3,362.8 832.6,364.7 829.7,366.5 826.7,368.1 823.6,369.4 820.5,370.5 817.3,371.4 814.1,372.2 810.9,372.8 807.7,373.3 804.5,373.7 801.3,373.9 798.1,374.2 794.9,374.2 791.6,374.0 788.4,373.9 785.2,373.6 782.0,373.2 778.8,372.7 775.6,372.1 772.5,371.2 769.3,370.2 766.3,369.0 763.2,367.7 760.3,366.1 757.3,364.5 754.5,362.7 751.9,360.6 749.4,358.3 747.0,355.9 744.8,353.4 742.7,350.7 740.8,347.9 739.2,344.9 737.8,341.9 736.5,338.8 735.5,335.6 734.7,332.3 734.1,329.1 733.4,325.9 733.0,322.6 732.6,319.4 732.4,316.1Z" fill="none" stroke="url(#lg)" stroke-width="1.05"/>
<path d="M728.4,312.7 728.4,309.3 728.4,305.8 728.6,302.3 729.1,298.8 730.0,295.4 731.3,292.1 732.4,288.8 733.9,285.7 735.7,282.7 737.7,279.9 740.1,277.3 742.4,274.8 744.8,272.4 747.3,270.0 749.7,267.7 752.2,265.6 754.9,263.6 757.7,261.8 760.3,259.8 763.0,257.8 765.7,255.8 768.7,254.3 771.9,253.3 775.1,252.4 778.4,251.7 781.6,251.0 784.9,250.3 788.1,249.7 791.4,249.0 794.7,248.5 798.1,248.1 801.6,247.6 805.0,247.5 808.5,247.6 812.0,248.1 815.4,248.9 818.8,250.0 822.0,251.3 825.2,252.9 828.2,254.7 831.1,256.7 833.9,258.8 836.6,261.0 839.3,263.3 841.9,265.6 844.5,268.0 846.6,270.8 848.5,273.7 850.3,276.7 851.9,279.8 853.3,282.9 854.6,286.1 855.6,289.4 856.7,292.6 857.8,295.9 858.5,299.2 858.7,302.6 858.7,306.1 858.7,309.4 858.7,312.8 858.7,316.1 858.5,319.5 858.3,322.8 858.0,326.2 857.6,329.6 857.1,333.0 856.5,336.5 855.5,339.8 854.3,343.1 853.0,346.4 851.4,349.6 849.6,352.7 847.4,355.5 845.0,358.1 842.4,360.5 839.8,362.8 836.9,364.9 834.0,366.9 831.0,368.7 827.9,370.3 824.8,371.7 821.5,373.0 818.3,374.2 815.0,375.2 811.6,376.0 808.3,376.6 804.9,377.0 801.5,377.2 798.1,377.4 794.7,377.2 791.4,376.8 788.0,376.4 784.7,376.0 781.4,375.4 778.1,374.9 774.8,374.2 771.5,373.4 768.2,372.5 764.8,371.5 761.5,370.3 758.2,369.0 755.0,367.4 751.9,365.7 749.0,363.5 746.3,361.1 743.8,358.6 741.6,355.7 739.6,352.8 737.8,349.7 736.3,346.5 734.9,343.2 733.7,339.9 732.7,336.6 731.9,333.2 731.1,329.8 730.3,326.5 729.6,323.1 729.1,319.7 728.6,316.2Z" fill="none" stroke="url(#lg)" stroke-width="1.05"/>
<path d="M725.1,312.7 725.1,309.1 725.2,305.4 725.5,301.7 725.9,298.1 726.8,294.5 728.1,291.1 729.2,287.6 730.6,284.2 732.4,281.0 734.4,278.0 736.8,275.2 739.2,272.5 741.7,269.9 744.3,267.4 746.9,265.1 749.7,262.8 752.6,260.9 755.7,259.1 758.5,257.2 761.4,255.2 764.3,253.2 767.5,251.8 770.8,250.8 774.2,249.9 777.6,249.2 781.0,248.4 784.3,247.6 787.7,246.9 791.1,246.1 794.6,245.6 798.1,245.1 801.7,244.6 805.4,244.5 809.0,244.8 812.6,245.3 816.2,246.2 819.6,247.4 823.0,248.8 826.3,250.5 829.5,252.2 832.6,254.2 835.6,256.2 838.6,258.4 841.4,260.7 844.3,263.0 847.1,265.4 849.5,268.3 851.5,271.3 853.4,274.5 855.0,277.8 856.5,281.2 857.7,284.6 858.7,288.1 859.7,291.6 860.8,295.0 861.4,298.5 861.6,302.1 861.6,305.7 861.5,309.2 861.6,312.7 861.6,316.2 861.5,319.7 861.3,323.3 861.0,326.8 860.5,330.4 859.9,333.9 859.2,337.5 858.0,341.0 856.7,344.3 855.2,347.7 853.5,350.9 851.5,354.1 849.2,357.0 846.8,359.7 844.1,362.2 841.4,364.7 838.6,367.0 835.6,369.2 832.6,371.3 829.5,373.1 826.2,374.7 822.8,376.2 819.4,377.4 815.9,378.5 812.4,379.3 808.8,379.9 805.3,380.3 801.7,380.5 798.1,380.5 794.6,380.4 791.1,379.9 787.6,379.6 784.1,379.1 780.6,378.6 777.1,378.1 773.6,377.5 770.1,376.7 766.5,375.7 763.0,374.6 759.6,373.3 756.2,371.8 752.9,370.1 749.8,368.1 746.9,365.7 744.2,363.1 741.8,360.3 739.5,357.3 737.5,354.2 735.6,351.0 734.0,347.7 732.5,344.3 731.2,340.9 730.0,337.5 729.0,334.0 728.1,330.5 727.1,327.0 726.3,323.5 725.8,319.9 725.3,316.3Z" fill="none" stroke="url(#lg)" stroke-width="1.05"/>
<path d="M722.6,312.6 722.6,308.9 722.6,305.1 722.7,301.3 723.1,297.5 724.0,293.8 725.2,290.1 726.2,286.5 727.6,282.9 729.4,279.5 731.5,276.3 733.8,273.3 736.3,270.4 738.9,267.6 741.5,265.0 744.2,262.4 747.1,260.0 750.1,257.9 753.3,256.0 756.3,253.9 759.3,251.8 762.4,249.7 765.8,248.3 769.3,247.2 772.9,246.4 776.6,245.8 780.1,245.1 783.7,244.4 787.3,243.8 790.8,243.2 794.5,242.8 798.2,242.4 801.9,242.0 805.7,241.9 809.4,242.2 813.2,242.8 816.8,243.8 820.4,245.0 823.9,246.5 827.3,248.2 830.6,250.0 833.9,252.0 837.0,254.1 840.0,256.4 843.0,258.7 846.1,261.0 849.0,263.5 851.5,266.4 853.8,269.5 855.9,272.7 857.7,276.1 859.4,279.5 860.8,283.1 862.0,286.7 863.1,290.3 864.4,293.9 865.1,297.6 865.3,301.4 865.3,305.2 865.2,308.9 865.3,312.7 865.2,316.4 864.9,320.1 864.7,323.8 864.3,327.5 863.7,331.2 863.0,334.9 862.1,338.6 860.9,342.2 859.4,345.7 857.7,349.2 855.9,352.5 853.8,355.8 851.3,358.7 848.7,361.4 845.9,364.0 843.0,366.5 840.0,368.9 836.9,371.1 833.8,373.1 830.5,375.0 827.1,376.7 823.7,378.3 820.2,379.7 816.6,380.9 813.0,381.8 809.3,382.6 805.6,383.1 801.9,383.5 798.2,383.7 794.4,383.7 790.7,383.3 787.1,383.0 783.4,382.6 779.7,382.1 776.0,381.6 772.3,380.9 768.6,380.1 764.8,379.1 761.1,378.0 757.5,376.6 753.9,375.0 750.4,373.2 747.1,371.0 744.2,368.5 741.4,365.7 738.9,362.7 736.6,359.5 734.6,356.2 732.8,352.7 731.2,349.2 729.8,345.6 728.6,342.0 727.5,338.4 726.6,334.7 725.7,331.1 724.8,327.5 724.0,323.8 723.4,320.1 722.9,316.4Z" fill="none" stroke="url(#lg)" stroke-width="1.05"/>
<path d="M719.1,312.6 719.3,308.7 719.5,304.7 719.7,300.8 720.1,296.8 721.0,292.9 722.1,289.1 723.2,285.3 724.6,281.5 726.5,278.0 728.7,274.7 731.3,271.7 734.1,268.8 737.0,266.1 739.9,263.6 742.9,261.1 745.9,258.8 749.1,256.8 752.4,254.8 755.4,252.6 758.4,250.3 761.4,247.9 764.7,246.1 768.3,244.7 771.9,243.4 775.5,242.4 779.2,241.3 782.9,240.4 786.6,239.6 790.4,238.9 794.3,238.5 798.2,238.2 802.1,237.9 806.1,238.0 810.1,238.5 814.0,239.2 817.8,240.3 821.6,241.5 825.3,243.0 828.9,244.7 832.4,246.5 835.9,248.5 839.2,250.7 842.5,253.1 845.6,255.7 848.6,258.2 851.6,261.0 853.9,264.3 856.0,267.8 857.8,271.4 859.4,275.0 860.8,278.7 862.1,282.5 863.2,286.2 864.4,289.9 865.8,293.5 866.7,297.2 867.2,301.1 867.4,304.9 867.7,308.8 868.0,312.6 868.1,316.5 868.0,320.3 867.8,324.2 867.4,328.1 866.7,332.0 866.0,335.9 865.0,339.7 863.6,343.4 862.1,347.1 860.4,350.8 858.6,354.4 856.6,357.9 854.2,361.1 851.6,364.2 848.9,367.1 845.9,369.9 842.9,372.5 839.6,374.9 836.2,377.1 832.6,378.9 828.9,380.5 825.1,381.8 821.3,382.8 817.4,383.7 813.6,384.3 809.7,384.8 805.8,385.2 802.0,385.4 798.2,385.6 794.4,385.5 790.5,385.3 786.7,385.1 782.9,384.9 779.1,384.5 775.2,384.1 771.3,383.4 767.5,382.5 763.7,381.5 759.9,380.2 756.2,378.6 752.6,376.9 749.0,374.9 745.6,372.8 742.5,370.2 739.5,367.5 736.6,364.6 734.0,361.4 731.5,358.2 729.3,354.8 727.3,351.3 725.5,347.6 723.9,343.9 722.7,340.1 721.7,336.2 720.9,332.2 720.1,328.3 719.6,324.4 719.3,320.5 719.1,316.5Z" fill="none" stroke="url(#lg)" stroke-width="1.05"/>
<path d="M715.8,312.5 715.8,308.4 715.7,304.3 715.8,300.1 716.2,295.9 717.1,291.9 718.4,287.9 719.6,283.9 721.3,280.1 723.5,276.5 726.0,273.2 728.9,270.1 731.9,267.2 734.9,264.5 737.9,261.8 740.9,259.2 744.0,256.7 747.2,254.5 750.4,252.3 753.5,249.8 756.5,247.3 759.6,244.7 763.2,242.8 766.9,241.4 770.7,240.2 774.6,239.3 778.4,238.4 782.3,237.7 786.3,237.0 790.2,236.4 794.2,236.0 798.2,235.7 802.3,235.3 806.4,235.2 810.6,235.5 814.7,236.0 818.7,236.9 822.8,238.0 826.7,239.5 830.5,241.2 834.2,243.2 837.7,245.4 841.2,247.8 844.4,250.5 847.5,253.3 850.6,256.1 853.5,259.1 855.9,262.6 858.1,266.2 860.0,269.8 861.8,273.6 863.4,277.3 864.9,281.1 866.2,284.9 867.6,288.7 869.2,292.5 870.2,296.4 870.6,300.4 870.8,304.5 870.8,308.5 870.9,312.5 870.8,316.6 870.5,320.6 870.2,324.6 869.7,328.6 869.0,332.6 868.3,336.6 867.3,340.6 866.1,344.6 864.7,348.5 863.2,352.4 861.5,356.2 859.5,360.0 857.0,363.4 854.3,366.6 851.3,369.7 848.1,372.5 844.8,375.0 841.3,377.4 837.6,379.4 833.9,381.3 830.0,382.8 826.1,384.1 822.1,385.3 818.2,386.3 814.2,387.2 810.2,387.9 806.2,388.4 802.2,388.8 798.2,389.2 794.2,389.2 790.2,388.9 786.2,388.6 782.2,388.2 778.2,387.6 774.3,386.9 770.3,386.0 766.4,385.0 762.5,383.7 758.7,382.4 754.8,380.8 751.0,379.1 747.2,377.2 743.5,375.1 740.1,372.6 736.8,369.9 733.7,366.9 730.9,363.7 728.3,360.3 726.1,356.7 724.1,353.0 722.4,349.1 721.0,345.1 719.9,341.0 719.0,336.9 718.3,332.9 717.5,328.8 716.9,324.8 716.5,320.7 716.1,316.6Z" fill="none" stroke="url(#lg)" stroke-width="1.05"/>
<path d="M713.4,312.5 713.4,308.2 713.4,304.0 713.4,299.7 713.6,295.4 714.3,291.1 715.4,286.9 716.4,282.6 717.8,278.5 719.7,274.6 722.1,270.9 724.9,267.6 727.9,264.4 731.0,261.4 734.2,258.6 737.5,255.9 740.9,253.4 744.5,251.2 748.1,249.2 751.4,246.8 754.8,244.4 758.1,241.9 761.8,240.0 765.7,238.6 769.7,237.4 773.7,236.5 777.7,235.6 781.8,234.8 785.8,234.1 789.9,233.5 794.1,233.2 798.2,233.0 802.5,232.8 806.7,233.0 810.9,233.5 815.1,234.2 819.2,235.3 823.3,236.5 827.3,238.0 831.2,239.6 835.1,241.5 838.9,243.5 842.6,245.7 846.1,248.1 849.6,250.8 853.0,253.5 856.3,256.4 859.0,259.9 861.3,263.6 863.4,267.4 865.3,271.3 866.9,275.3 868.4,279.4 869.7,283.4 871.0,287.5 872.6,291.4 873.6,295.6 874.1,299.8 874.3,304.0 874.4,308.3 874.6,312.5 874.6,316.7 874.3,320.9 873.8,325.1 873.2,329.3 872.3,333.4 871.2,337.6 870.0,341.6 868.5,345.6 866.7,349.5 864.8,353.3 862.9,357.1 860.7,360.9 858.1,364.3 855.4,367.6 852.4,370.8 849.3,373.8 846.0,376.6 842.6,379.2 839.0,381.6 835.2,383.7 831.3,385.5 827.2,387.0 823.2,388.3 819.1,389.4 814.9,390.3 810.8,391.0 806.6,391.6 802.4,392.0 798.2,392.4 794.1,392.5 789.9,392.3 785.7,392.3 781.4,392.0 777.2,391.6 773.0,391.1 768.7,390.3 764.6,389.2 760.4,387.9 756.4,386.4 752.4,384.6 748.6,382.5 744.8,380.3 741.2,377.7 737.9,374.8 734.8,371.8 731.8,368.5 729.1,365.1 726.6,361.5 724.2,357.8 722.2,354.0 720.4,350.0 718.9,346.0 717.6,341.8 716.6,337.6 715.8,333.5 714.9,329.3 714.3,325.1 713.9,320.9 713.6,316.7Z" fill="none" stroke="url(#lg)" stroke-width="1.05"/>
<path d="M709.5,312.4 709.4,308.0 709.3,303.5 709.3,299.0 709.6,294.5 710.4,290.0 711.7,285.7 712.9,281.3 714.6,277.1 716.9,273.2 719.5,269.5 722.7,266.1 725.9,263.0 729.2,260.0 732.6,257.2 736.0,254.5 739.4,251.9 743.0,249.5 746.6,247.3 750.0,244.8 753.4,242.1 756.8,239.4 760.6,237.4 764.6,235.9 768.7,234.6 772.8,233.6 777.0,232.7 781.2,231.9 785.4,231.2 789.7,230.5 793.9,230.1 798.3,229.8 802.7,229.5 807.1,229.5 811.5,229.8 815.9,230.4 820.3,231.3 824.6,232.5 828.8,234.0 833.0,235.7 837.0,237.7 841.0,239.9 844.8,242.4 848.4,245.1 851.8,248.1 855.3,251.0 858.5,254.2 861.1,258.0 863.5,261.9 865.5,265.9 867.4,270.0 869.1,274.1 870.6,278.3 872.0,282.4 873.4,286.6 875.1,290.7 876.1,294.9 876.6,299.3 876.8,303.7 876.8,308.1 877.0,312.4 876.8,316.8 876.5,321.1 876.0,325.4 875.4,329.7 874.5,334.0 873.6,338.3 872.5,342.6 871.1,346.8 869.5,350.9 867.8,355.0 865.9,359.1 863.8,363.2 861.2,366.9 858.3,370.4 855.3,373.7 852.0,376.9 848.5,379.8 844.8,382.4 840.9,384.8 836.9,386.8 832.7,388.5 828.5,390.0 824.2,391.3 819.9,392.4 815.6,393.4 811.3,394.1 807.0,394.7 802.6,395.1 798.3,395.5 793.9,395.6 789.6,395.3 785.2,395.1 780.9,394.7 776.6,394.1 772.2,393.4 767.9,392.4 763.7,391.1 759.5,389.7 755.4,388.1 751.3,386.3 747.3,384.3 743.3,382.1 739.5,379.7 735.9,376.9 732.5,373.9 729.2,370.7 726.2,367.2 723.5,363.6 721.0,359.8 718.8,355.8 716.9,351.6 715.3,347.4 714.0,343.1 713.0,338.7 712.2,334.3 711.3,330.0 710.6,325.6 710.1,321.2 709.7,316.8Z" fill="none" stroke="url(#lg)" stroke-width="1.05"/>
<path d="M706.2,312.3 706.3,307.8 706.3,303.2 706.4,298.5 706.8,293.9 707.7,289.3 709.1,284.8 710.4,280.3 712.2,276.0 714.5,272.0 717.2,268.2 720.5,264.7 723.8,261.5 727.2,258.4 730.6,255.5 734.1,252.6 737.6,249.9 741.2,247.4 744.9,245.0 748.3,242.3 751.8,239.5 755.2,236.6 759.1,234.4 763.2,232.7 767.5,231.3 771.8,230.2 776.1,229.1 780.4,228.2 784.9,227.4 789.3,226.7 793.8,226.3 798.3,226.0 802.9,225.7 807.5,225.7 812.1,226.1 816.7,226.8 821.2,227.9 825.7,229.2 830.0,230.8 834.3,232.7 838.5,234.9 842.5,237.3 846.4,239.9 850.1,242.8 853.6,245.9 857.1,249.0 860.4,252.4 863.1,256.3 865.4,260.3 867.5,264.5 869.4,268.7 871.2,273.0 872.8,277.2 874.2,281.5 875.7,285.8 877.5,290.0 878.6,294.3 879.2,298.8 879.5,303.4 879.7,307.9 879.9,312.4 879.9,316.9 879.6,321.4 879.3,325.9 878.7,330.4 877.9,334.9 877.0,339.4 875.8,343.8 874.4,348.2 872.7,352.6 870.9,356.9 869.0,361.2 866.7,365.4 864.0,369.2 861.0,372.9 857.7,376.3 854.2,379.5 850.5,382.5 846.6,385.1 842.6,387.5 838.3,389.6 834.0,391.3 829.6,392.7 825.1,393.9 820.7,395.0 816.2,395.8 811.7,396.5 807.2,397.1 802.8,397.4 798.3,397.8 793.8,397.9 789.3,397.6 784.9,397.4 780.4,397.0 775.9,396.5 771.4,395.8 767.0,394.9 762.6,393.7 758.2,392.4 753.9,390.8 749.6,389.0 745.3,387.0 741.2,384.8 737.1,382.4 733.4,379.5 729.7,376.4 726.3,373.1 723.1,369.6 720.2,365.8 717.5,361.8 715.2,357.7 713.3,353.3 711.6,348.9 710.3,344.4 709.3,339.8 708.5,335.2 707.6,330.6 707.0,326.1 706.7,321.5 706.3,316.9Z" fill="none" stroke="url(#lg)" stroke-width="1.05"/>
<path d="M703.3,312.3 703.1,307.5 702.8,302.7 702.8,297.9 703.0,293.0 703.8,288.2 705.2,283.6 706.5,278.8 708.4,274.3 710.8,270.1 713.7,266.1 717.0,262.5 720.5,259.1 724.0,255.9 727.5,252.8 731.1,249.7 734.7,246.8 738.5,244.2 742.4,241.8 746.1,239.0 749.7,236.2 753.4,233.3 757.6,231.2 762.0,229.7 766.5,228.5 771.0,227.7 775.5,226.8 780.0,226.1 784.6,225.5 789.1,224.9 793.7,224.5 798.3,224.2 803.0,223.8 807.7,223.7 812.5,224.0 817.2,224.6 821.9,225.5 826.5,226.7 831.0,228.3 835.5,230.2 839.8,232.3 844.0,234.7 848.0,237.4 851.9,240.3 855.6,243.5 859.3,246.6 862.8,250.0 865.7,253.9 868.3,258.0 870.7,262.3 872.9,266.6 874.8,270.9 876.6,275.3 878.2,279.8 879.8,284.3 881.6,288.7 882.7,293.4 883.1,298.1 883.2,302.9 883.2,307.6 883.2,312.3 882.9,317.0 882.4,321.6 881.8,326.3 881.0,330.9 880.1,335.5 879.1,340.1 877.9,344.6 876.5,349.2 874.8,353.6 872.9,358.0 870.9,362.4 868.6,366.7 865.7,370.6 862.6,374.3 859.2,377.8 855.6,381.1 851.8,384.1 847.8,386.9 843.7,389.4 839.4,391.6 835.0,393.5 830.6,395.2 826.1,396.7 821.5,398.1 817.0,399.2 812.3,400.2 807.7,401.0 803.0,401.6 798.3,402.1 793.6,402.2 788.9,401.9 784.2,401.6 779.6,401.1 774.9,400.4 770.3,399.6 765.6,398.5 761.1,397.1 756.6,395.6 752.1,393.9 747.7,392.0 743.3,389.8 739.1,387.5 734.9,384.9 731.1,381.9 727.4,378.6 723.9,375.1 720.8,371.3 718.0,367.3 715.4,363.1 713.3,358.7 711.4,354.2 709.8,349.6 708.6,345.0 707.6,340.3 706.7,335.6 705.7,331.0 704.9,326.4 704.3,321.7 703.7,317.0Z" fill="none" stroke="url(#lg)" stroke-width="1.05"/>
<path d="M699.9,312.2 699.9,307.3 699.8,302.4 699.9,297.4 700.2,292.4 701.0,287.4 702.4,282.6 703.5,277.7 705.3,273.0 707.7,268.5 710.5,264.3 713.9,260.5 717.5,257.0 721.1,253.6 724.9,250.5 728.7,247.4 732.6,244.6 736.7,242.1 740.8,239.7 744.6,236.9 748.4,234.1 752.2,231.2 756.5,229.0 760.9,227.3 765.5,225.9 770.1,224.8 774.7,223.7 779.4,222.8 784.1,222.0 788.8,221.2 793.6,220.8 798.4,220.5 803.2,220.2 808.1,220.3 813.0,220.8 817.9,221.5 822.7,222.6 827.4,224.0 832.1,225.6 836.7,227.5 841.2,229.6 845.6,232.0 849.8,234.7 853.9,237.6 857.9,240.7 861.8,243.9 865.5,247.4 868.5,251.5 871.1,255.8 873.4,260.3 875.5,264.9 877.4,269.5 879.0,274.2 880.5,278.9 882.0,283.5 883.8,288.0 885.0,292.8 885.5,297.7 885.7,302.6 885.8,307.4 886.0,312.2 885.9,317.1 885.5,321.9 885.1,326.7 884.3,331.5 883.3,336.3 882.2,341.1 880.9,345.8 879.2,350.4 877.3,354.9 875.3,359.4 873.1,363.9 870.7,368.3 867.8,372.4 864.6,376.3 861.3,380.0 857.7,383.5 853.9,386.8 849.8,389.8 845.6,392.5 841.2,394.9 836.6,396.9 832.0,398.6 827.2,400.0 822.5,401.3 817.6,402.3 812.8,403.1 808.0,403.7 803.2,404.1 798.4,404.5 793.5,404.6 788.7,404.3 783.8,404.2 779.0,403.8 774.2,403.3 769.3,402.6 764.5,401.6 759.7,400.2 755.0,398.7 750.4,396.9 745.9,394.8 741.5,392.5 737.1,389.9 732.9,387.1 729.1,383.9 725.4,380.4 721.9,376.8 718.7,372.9 715.6,368.9 712.9,364.6 710.4,360.2 708.3,355.7 706.5,351.0 705.0,346.2 703.8,341.4 702.8,336.5 701.8,331.7 701.1,326.9 700.6,322.0 700.2,317.1Z" fill="none" stroke="url(#lg)" stroke-width="1.05"/>
<path d="M696.8,312.2 696.9,307.1 697.1,302.1 697.4,297.0 698.0,291.9 699.3,287.0 701.0,282.1 702.4,277.3 704.3,272.5 706.7,268.0 709.4,263.7 712.6,259.7 715.8,255.8 719.1,252.1 722.6,248.4 726.1,244.9 729.8,241.6 733.8,238.6 737.9,235.9 741.9,232.9 745.9,229.9 749.9,226.9 754.5,224.8 759.3,223.3 764.1,222.1 769.0,221.2 773.8,220.2 778.7,219.3 783.5,218.4 788.4,217.6 793.4,217.0 798.4,216.5 803.5,216.1 808.6,216.1 813.7,216.6 818.7,217.5 823.7,219.0 828.5,220.7 833.2,222.9 837.7,225.3 842.0,228.0 846.3,230.8 850.4,233.8 854.4,236.9 858.3,240.1 862.3,243.3 866.3,246.6 869.6,250.5 872.6,254.7 875.3,259.0 877.8,263.5 880.1,268.0 882.0,272.7 883.7,277.5 885.4,282.3 887.2,287.0 888.3,292.0 888.7,297.1 888.9,302.1 888.9,307.2 889.1,312.2 889.1,317.2 888.9,322.2 888.7,327.3 888.2,332.3 887.5,337.4 886.6,342.5 885.5,347.5 883.8,352.4 881.8,357.2 879.5,361.9 877.0,366.5 874.1,370.8 870.7,374.7 867.0,378.4 863.1,381.8 859.1,385.1 854.9,388.1 850.7,390.9 846.3,393.6 841.8,396.0 837.2,398.2 832.6,400.1 827.8,401.8 823.0,403.3 818.2,404.6 813.3,405.5 808.3,406.2 803.3,406.7 798.4,407.0 793.4,406.9 788.5,406.5 783.5,406.2 778.6,405.8 773.6,405.2 768.6,404.6 763.6,403.9 758.6,402.9 753.5,401.7 748.5,400.3 743.4,398.6 738.5,396.6 733.7,394.2 729.1,391.4 725.0,388.0 721.1,384.3 717.6,380.3 714.5,376.0 711.7,371.5 709.3,366.8 707.2,361.9 705.3,357.0 703.7,352.1 702.4,347.1 701.2,342.1 700.2,337.2 699.1,332.2 698.2,327.3 697.6,322.2 697.1,317.2Z" fill="none" stroke="url(#lg)" stroke-width="1.05"/>
<path d="M692.4,312.1 692.3,306.8 692.2,301.5 692.4,296.1 692.9,290.8 694.2,285.6 696.0,280.5 697.7,275.4 700.0,270.6 702.8,266.0 706.0,261.7 709.6,257.8 713.4,254.1 717.1,250.4 720.9,246.9 724.7,243.5 728.6,240.2 732.7,237.3 736.9,234.5 740.9,231.4 744.9,228.3 749.0,225.2 753.6,223.0 758.5,221.4 763.4,220.1 768.4,219.1 773.3,218.1 778.3,217.2 783.2,216.3 788.2,215.4 793.3,214.8 798.4,214.1 803.6,213.5 808.9,213.2 814.2,213.4 819.5,214.0 824.7,215.1 829.9,216.6 834.9,218.5 839.7,220.8 844.4,223.4 848.9,226.3 853.2,229.5 857.4,232.9 861.4,236.5 865.4,240.0 869.3,243.7 872.5,248.0 875.4,252.5 878.0,257.1 880.4,261.8 882.6,266.6 884.6,271.5 886.3,276.4 887.9,281.4 889.7,286.3 890.8,291.4 891.1,296.6 891.1,301.9 891.0,307.0 891.0,312.1 890.8,317.3 890.4,322.3 890.0,327.5 889.4,332.6 888.7,337.7 887.9,342.9 886.8,348.0 885.4,353.1 883.6,358.1 881.6,363.1 879.3,368.0 876.7,372.8 873.5,377.1 869.9,381.1 866.0,384.9 861.9,388.4 857.7,391.6 853.2,394.6 848.6,397.4 843.9,399.8 839.0,402.0 834.1,403.9 829.2,405.6 824.1,407.2 819.1,408.4 813.9,409.4 808.8,410.2 803.6,410.6 798.4,410.9 793.2,410.8 788.1,410.2 783.0,409.7 777.9,409.0 772.9,408.1 767.8,407.2 762.8,406.0 757.8,404.6 752.8,403.1 747.8,401.5 742.8,399.6 737.9,397.5 733.0,395.1 728.3,392.4 723.9,389.1 719.8,385.6 716.0,381.7 712.5,377.5 709.4,373.0 706.7,368.3 704.3,363.5 702.2,358.5 700.5,353.4 699.0,348.3 697.8,343.1 696.7,338.0 695.4,332.9 694.4,327.8 693.6,322.6 692.9,317.4Z" fill="none" stroke="url(#lg)" stroke-width="1.05"/>
<path d="M687.1,312.0 687.1,306.5 687.2,300.9 687.5,295.3 688.0,289.7 689.2,284.2 690.9,278.8 692.5,273.4 694.6,268.2 697.2,263.2 700.3,258.5 704.0,254.2 707.7,250.0 711.6,246.1 715.6,242.3 719.6,238.6 723.8,235.2 728.3,232.1 732.8,229.2 737.1,225.9 741.5,222.7 745.8,219.4 750.7,217.0 755.8,215.2 761.1,213.7 766.3,212.5 771.6,211.3 776.9,210.2 782.2,209.3 787.6,208.4 793.0,207.8 798.5,207.4 804.0,207.0 809.6,207.0 815.2,207.6 820.7,208.5 826.2,209.9 831.5,211.6 836.7,213.8 841.8,216.2 846.8,218.9 851.6,221.8 856.3,224.9 860.8,228.3 865.1,231.9 869.5,235.5 873.7,239.3 877.2,243.8 880.3,248.5 883.2,253.4 885.7,258.5 888.1,263.6 890.1,268.8 891.9,274.0 893.7,279.3 895.7,284.5 897.0,289.9 897.5,295.4 897.8,301.0 897.9,306.5 898.2,312.0 898.1,317.5 897.8,323.0 897.4,328.5 896.7,334.0 895.8,339.5 894.7,345.0 893.3,350.5 891.4,355.8 889.3,361.1 886.9,366.2 884.3,371.3 881.3,376.2 877.8,380.7 874.0,384.9 869.9,388.9 865.6,392.7 861.2,396.2 856.5,399.5 851.7,402.4 846.8,405.1 841.6,407.4 836.4,409.4 831.1,411.2 825.7,412.7 820.3,413.9 814.9,414.9 809.4,415.6 803.9,416.1 798.5,416.5 793.0,416.5 787.5,416.1 782.1,415.8 776.6,415.3 771.2,414.6 765.7,413.8 760.3,412.8 754.8,411.4 749.4,409.9 744.1,408.0 738.8,405.9 733.6,403.5 728.5,400.7 723.7,397.6 719.2,394.0 715.0,390.0 711.0,385.8 707.5,381.2 704.2,376.5 701.3,371.6 698.7,366.4 696.5,361.2 694.5,355.8 692.9,350.4 691.6,344.9 690.5,339.5 689.3,334.0 688.4,328.6 687.8,323.1 687.3,317.5Z" fill="none" stroke="#bcc47a" stroke-width="3"/>
</svg>
<svg class="bx" style="left:0;top:0" width="1004" height="1421" viewBox="0 0 1004 1421">
<defs><filter id="bl" x="-5%" y="-5%" width="110%" height="110%"><feGaussianBlur stdDeviation="1.1"/></filter></defs>
<path d="M221.9,584.3 C222.9,584.2 225.9,583.7 227.9,583.5 C229.9,583.2 231.9,583.0 233.8,582.8 C235.8,582.6 237.8,582.4 239.8,582.3 C241.8,582.2 243.8,582.1 245.8,582.0 C247.8,581.9 249.8,581.8 251.8,581.7 C253.8,581.7 255.8,581.6 257.7,581.6 C259.7,581.5 261.7,581.5 263.7,581.4 C265.7,581.4 267.7,581.3 269.7,581.3 C271.7,581.3 273.7,581.2 275.7,581.2 C277.7,581.1 279.6,581.0 281.6,581.0 C283.6,580.9 285.6,580.8 287.6,580.7 C289.6,580.6 291.6,580.5 293.6,580.3 C295.6,580.2 297.6,580.0 299.6,579.8 C301.6,579.6 303.5,579.4 305.5,579.1 C307.5,578.9 309.5,578.6 311.5,578.3 C313.5,577.9 315.5,577.6 317.5,577.2 C319.5,576.8 321.5,576.3 323.5,575.9 C325.4,575.4 327.4,574.9 329.4,574.4 C331.4,573.9 333.4,573.3 335.4,572.7 C337.4,572.1 339.4,571.5 341.4,570.8 C343.4,570.2 345.4,569.5 347.4,568.8 C349.3,568.1 351.3,567.3 353.3,566.6 C355.3,565.8 357.3,565.0 359.3,564.2 C361.3,563.4 363.3,562.5 365.3,561.7 C367.3,560.8 369.3,559.9 371.2,559.0 C373.2,558.1 375.2,557.1 377.2,556.2 C379.2,555.2 381.2,554.2 383.2,553.2 C385.2,552.2 387.2,551.2 389.2,550.2 C391.2,549.1 393.2,548.1 395.1,547.0 C397.1,545.9 399.1,544.8 401.1,543.7 C403.1,542.6 405.1,541.5 407.1,540.4 C409.1,539.2 411.1,538.1 413.1,536.9 C415.1,535.7 417.0,534.6 419.0,533.4 C421.0,532.2 423.0,531.0 425.0,529.7 C427.0,528.5 429.0,527.2 431.0,525.9 C433.0,524.7 435.0,523.4 437.0,522.0 C439.0,520.7 440.9,519.4 442.9,518.0 C444.9,516.6 446.9,515.2 448.9,513.7 C450.9,512.3 452.9,510.8 454.9,509.3 C456.9,507.8 458.9,506.3 460.9,504.7 C462.8,503.1 464.8,501.5 466.8,499.9 C468.8,498.2 470.8,496.5 472.8,494.8 C474.8,493.1 476.8,491.3 478.8,489.5 C480.8,487.7 482.8,485.8 484.8,483.9 C486.7,482.0 488.7,480.1 490.7,478.1 C492.7,476.1 494.7,474.0 496.7,471.9 C498.7,469.8 500.7,467.6 502.7,465.4 C504.7,463.2 506.7,461.0 508.6,458.7 C510.6,456.4 512.6,454.0 514.6,451.6 C516.6,449.2 518.6,446.7 520.6,444.1 C522.6,441.6 524.6,439.0 526.6,436.4 C528.6,433.7 530.6,431.0 532.5,428.3 C534.5,425.5 536.5,422.7 538.5,419.8 C540.5,416.9 542.5,414.0 544.5,411.1 C546.5,408.1 548.5,405.1 550.5,402.1 C552.5,399.1 554.4,396.1 556.4,393.1 C558.4,390.1 560.4,387.1 562.4,384.1 C564.4,381.1 566.4,378.1 568.4,375.2 C570.4,372.2 572.4,369.3 574.4,366.5 C576.4,363.6 578.3,360.8 580.3,358.1 C582.3,355.4 584.3,352.7 586.3,350.2 C588.3,347.7 590.3,345.3 592.3,343.0 C594.3,340.7 596.3,338.6 598.3,336.6 C600.2,334.6 602.2,332.8 604.2,331.2 C606.2,329.6 608.2,328.1 610.2,326.9 C612.2,325.7 614.2,324.7 616.2,323.9 C618.2,323.2 620.2,322.6 622.2,322.4 C624.1,322.2 626.1,322.2 628.1,322.5 C630.1,322.8 633.1,324.1 634.1,324.4" fill="none" stroke="#9a9a9a" stroke-width="2.6" opacity="0.55" transform="translate(0.6,3.2)" filter="url(#bl)"/>
<line x1="221.9" y1="292.6" x2="221.9" y2="585.4" stroke="#000" stroke-width="1.9"/>
<line x1="216.8" y1="292.6" x2="221.9" y2="292.6" stroke="#000" stroke-width="1.7"/>
<line x1="216.8" y1="365.6" x2="221.9" y2="365.6" stroke="#000" stroke-width="1.7"/>
<line x1="216.8" y1="438.6" x2="221.9" y2="438.6" stroke="#000" stroke-width="1.7"/>
<line x1="216.8" y1="511.6" x2="221.9" y2="511.6" stroke="#000" stroke-width="1.7"/>
<line x1="216.8" y1="584.6" x2="221.9" y2="584.6" stroke="#000" stroke-width="1.7"/>
<line x1="221" y1="584.9" x2="636.5" y2="584.9" stroke="#333" stroke-width="1.9"/>
<line x1="221.9" y1="584" x2="221.9" y2="589.6" stroke="#000" stroke-width="1.8"/>
<line x1="272.9" y1="584" x2="272.9" y2="589.6" stroke="#000" stroke-width="1.8"/>
<line x1="324.8" y1="584" x2="324.8" y2="589.6" stroke="#000" stroke-width="1.8"/>
<line x1="376.0" y1="584" x2="376.0" y2="589.6" stroke="#000" stroke-width="1.8"/>
<line x1="427.7" y1="584" x2="427.7" y2="589.6" stroke="#000" stroke-width="1.8"/>
<line x1="479.8" y1="584" x2="479.8" y2="589.6" stroke="#000" stroke-width="1.8"/>
<line x1="530.6" y1="584" x2="530.6" y2="589.6" stroke="#000" stroke-width="1.8"/>
<line x1="582.8" y1="584" x2="582.8" y2="589.6" stroke="#000" stroke-width="1.8"/>
<line x1="635.5" y1="584" x2="635.5" y2="589.6" stroke="#000" stroke-width="1.8"/>
<path d="M221.9,584.3 C222.9,584.2 225.9,583.7 227.9,583.5 C229.9,583.2 231.9,583.0 233.8,582.8 C235.8,582.6 237.8,582.4 239.8,582.3 C241.8,582.2 243.8,582.1 245.8,582.0 C247.8,581.9 249.8,581.8 251.8,581.7 C253.8,581.7 255.8,581.6 257.7,581.6 C259.7,581.5 261.7,581.5 263.7,581.4 C265.7,581.4 267.7,581.3 269.7,581.3 C271.7,581.3 273.7,581.2 275.7,581.2 C277.7,581.1 279.6,581.0 281.6,581.0 C283.6,580.9 285.6,580.8 287.6,580.7 C289.6,580.6 291.6,580.5 293.6,580.3 C295.6,580.2 297.6,580.0 299.6,579.8 C301.6,579.6 303.5,579.4 305.5,579.1 C307.5,578.9 309.5,578.6 311.5,578.3 C313.5,577.9 315.5,577.6 317.5,577.2 C319.5,576.8 321.5,576.3 323.5,575.9 C325.4,575.4 327.4,574.9 329.4,574.4 C331.4,573.9 333.4,573.3 335.4,572.7 C337.4,572.1 339.4,571.5 341.4,570.8 C343.4,570.2 345.4,569.5 347.4,568.8 C349.3,568.1 351.3,567.3 353.3,566.6 C355.3,565.8 357.3,565.0 359.3,564.2 C361.3,563.4 363.3,562.5 365.3,561.7 C367.3,560.8 369.3,559.9 371.2,559.0 C373.2,558.1 375.2,557.1 377.2,556.2 C379.2,555.2 381.2,554.2 383.2,553.2 C385.2,552.2 387.2,551.2 389.2,550.2 C391.2,549.1 393.2,548.1 395.1,547.0 C397.1,545.9 399.1,544.8 401.1,543.7 C403.1,542.6 405.1,541.5 407.1,540.4 C409.1,539.2 411.1,538.1 413.1,536.9 C415.1,535.7 417.0,534.6 419.0,533.4 C421.0,532.2 423.0,531.0 425.0,529.7 C427.0,528.5 429.0,527.2 431.0,525.9 C433.0,524.7 435.0,523.4 437.0,522.0 C439.0,520.7 440.9,519.4 442.9,518.0 C444.9,516.6 446.9,515.2 448.9,513.7 C450.9,512.3 452.9,510.8 454.9,509.3 C456.9,507.8 458.9,506.3 460.9,504.7 C462.8,503.1 464.8,501.5 466.8,499.9 C468.8,498.2 470.8,496.5 472.8,494.8 C474.8,493.1 476.8,491.3 478.8,489.5 C480.8,487.7 482.8,485.8 484.8,483.9 C486.7,482.0 488.7,480.1 490.7,478.1 C492.7,476.1 494.7,474.0 496.7,471.9 C498.7,469.8 500.7,467.6 502.7,465.4 C504.7,463.2 506.7,461.0 508.6,458.7 C510.6,456.4 512.6,454.0 514.6,451.6 C516.6,449.2 518.6,446.7 520.6,444.1 C522.6,441.6 524.6,439.0 526.6,436.4 C528.6,433.7 530.6,431.0 532.5,428.3 C534.5,425.5 536.5,422.7 538.5,419.8 C540.5,416.9 542.5,414.0 544.5,411.1 C546.5,408.1 548.5,405.1 550.5,402.1 C552.5,399.1 554.4,396.1 556.4,393.1 C558.4,390.1 560.4,387.1 562.4,384.1 C564.4,381.1 566.4,378.1 568.4,375.2 C570.4,372.2 572.4,369.3 574.4,366.5 C576.4,363.6 578.3,360.8 580.3,358.1 C582.3,355.4 584.3,352.7 586.3,350.2 C588.3,347.7 590.3,345.3 592.3,343.0 C594.3,340.7 596.3,338.6 598.3,336.6 C600.2,334.6 602.2,332.8 604.2,331.2 C606.2,329.6 608.2,328.1 610.2,326.9 C612.2,325.7 614.2,324.7 616.2,323.9 C618.2,323.2 620.2,322.6 622.2,322.4 C624.1,322.2 626.1,322.2 628.1,322.5 C630.1,322.8 633.1,324.1 634.1,324.4" fill="none" stroke="#b8f0a8" stroke-width="3.6" stroke-linecap="round" opacity="0.7"/>
<path d="M221.9,584.3 C222.9,584.2 225.9,583.7 227.9,583.5 C229.9,583.2 231.9,583.0 233.8,582.8 C235.8,582.6 237.8,582.4 239.8,582.3 C241.8,582.2 243.8,582.1 245.8,582.0 C247.8,581.9 249.8,581.8 251.8,581.7 C253.8,581.7 255.8,581.6 257.7,581.6 C259.7,581.5 261.7,581.5 263.7,581.4 C265.7,581.4 267.7,581.3 269.7,581.3 C271.7,581.3 273.7,581.2 275.7,581.2 C277.7,581.1 279.6,581.0 281.6,581.0 C283.6,580.9 285.6,580.8 287.6,580.7 C289.6,580.6 291.6,580.5 293.6,580.3 C295.6,580.2 297.6,580.0 299.6,579.8 C301.6,579.6 303.5,579.4 305.5,579.1 C307.5,578.9 309.5,578.6 311.5,578.3 C313.5,577.9 315.5,577.6 317.5,577.2 C319.5,576.8 321.5,576.3 323.5,575.9 C325.4,575.4 327.4,574.9 329.4,574.4 C331.4,573.9 333.4,573.3 335.4,572.7 C337.4,572.1 339.4,571.5 341.4,570.8 C343.4,570.2 345.4,569.5 347.4,568.8 C349.3,568.1 351.3,567.3 353.3,566.6 C355.3,565.8 357.3,565.0 359.3,564.2 C361.3,563.4 363.3,562.5 365.3,561.7 C367.3,560.8 369.3,559.9 371.2,559.0 C373.2,558.1 375.2,557.1 377.2,556.2 C379.2,555.2 381.2,554.2 383.2,553.2 C385.2,552.2 387.2,551.2 389.2,550.2 C391.2,549.1 393.2,548.1 395.1,547.0 C397.1,545.9 399.1,544.8 401.1,543.7 C403.1,542.6 405.1,541.5 407.1,540.4 C409.1,539.2 411.1,538.1 413.1,536.9 C415.1,535.7 417.0,534.6 419.0,533.4 C421.0,532.2 423.0,531.0 425.0,529.7 C427.0,528.5 429.0,527.2 431.0,525.9 C433.0,524.7 435.0,523.4 437.0,522.0 C439.0,520.7 440.9,519.4 442.9,518.0 C444.9,516.6 446.9,515.2 448.9,513.7 C450.9,512.3 452.9,510.8 454.9,509.3 C456.9,507.8 458.9,506.3 460.9,504.7 C462.8,503.1 464.8,501.5 466.8,499.9 C468.8,498.2 470.8,496.5 472.8,494.8 C474.8,493.1 476.8,491.3 478.8,489.5 C480.8,487.7 482.8,485.8 484.8,483.9 C486.7,482.0 488.7,480.1 490.7,478.1 C492.7,476.1 494.7,474.0 496.7,471.9 C498.7,469.8 500.7,467.6 502.7,465.4 C504.7,463.2 506.7,461.0 508.6,458.7 C510.6,456.4 512.6,454.0 514.6,451.6 C516.6,449.2 518.6,446.7 520.6,444.1 C522.6,441.6 524.6,439.0 526.6,436.4 C528.6,433.7 530.6,431.0 532.5,428.3 C534.5,425.5 536.5,422.7 538.5,419.8 C540.5,416.9 542.5,414.0 544.5,411.1 C546.5,408.1 548.5,405.1 550.5,402.1 C552.5,399.1 554.4,396.1 556.4,393.1 C558.4,390.1 560.4,387.1 562.4,384.1 C564.4,381.1 566.4,378.1 568.4,375.2 C570.4,372.2 572.4,369.3 574.4,366.5 C576.4,363.6 578.3,360.8 580.3,358.1 C582.3,355.4 584.3,352.7 586.3,350.2 C588.3,347.7 590.3,345.3 592.3,343.0 C594.3,340.7 596.3,338.6 598.3,336.6 C600.2,334.6 602.2,332.8 604.2,331.2 C606.2,329.6 608.2,328.1 610.2,326.9 C612.2,325.7 614.2,324.7 616.2,323.9 C618.2,323.2 620.2,322.6 622.2,322.4 C624.1,322.2 626.1,322.2 628.1,322.5 C630.1,322.8 633.1,324.1 634.1,324.4" fill="none" stroke="#3d9a30" stroke-width="2.1" stroke-linecap="round"/>
</svg>
<div class="t" style="left:112.50px;top:135.00px;font-family:'DejaVu Sans',sans-serif;font-weight:400;font-size:21px;color:#fff;transform:scaleX(0.9493);">Technical Information</div>
<div class="t" style="left:111.33px;top:187.40px;font-family:'DejaVu Sans',sans-serif;font-weight:700;font-size:17.5px;color:#3d3d3d;transform:scaleX(0.8714);">Carbon capture and cumulative storage over lifespan</div>
<div class="t" style="left:294.99px;top:251.40px;font-family:'Liberation Sans',sans-serif;font-weight:400;font-size:20px;color:#000;transform:scaleX(1.0142);">Gleditsia triacanthos varieties</div>
<div class="t" style="left:386.50px;top:629.50px;font-family:'Liberation Sans',sans-serif;font-weight:400;font-size:16px;color:#000;transform:scaleX(1.0085);">Age (years)</div>
<div class="t" style="left:730.91px;top:261.60px;font-family:'DejaVu Sans',sans-serif;font-weight:400;font-size:14.2px;color:#3d3d3d;transform:scaleX(1.0910);-webkit-text-stroke:0.8px #3d3d3d;">Carbon Capture</div>
<div class="t" style="left:727.89px;top:280.25px;font-family:'DejaVu Sans',sans-serif;font-weight:400;font-size:14.2px;color:#3d3d3d;transform:scaleX(1.1140);-webkit-text-stroke:0.8px #3d3d3d;">Breakeven Point</div>
<div class="t" style="left:718.70px;top:298.90px;font-family:'DejaVu Sans',sans-serif;font-weight:400;font-size:14.2px;color:#3d3d3d;transform:scaleX(1.1030);-webkit-text-stroke:0.8px #3d3d3d;">(from propagation)</div>
<div class="t" style="left:733.67px;top:337.50px;font-family:'DejaVu Sans',sans-serif;font-weight:400;font-size:38.5px;color:#3d3d3d;transform:scaleX(0.9084);">1 year</div>
<div class="t" style="left:113.00px;top:659.20px;font-family:'DejaVu Sans',sans-serif;font-weight:400;font-size:15px;color:#3d3d3d;transform:scaleX(1.0118);">This diagram shows the rate at which the tree will store carbon as a dry weight over its anticipated</div>
<div class="t" style="left:111.98px;top:681.80px;font-family:'DejaVu Sans',sans-serif;font-weight:400;font-size:15px;color:#3d3d3d;transform:scaleX(1.0245);">lifespan and the age at which the tree will offset the carbon it took to grow, deliver and plant it.</div>
<div class="t" style="left:559.87px;top:737.40px;font-family:'Liberation Sans',sans-serif;font-weight:400;font-size:22.5px;color:#000;transform:scaleX(0.9655);">Barcham</div>
<div class="t" style="left:560.52px;top:763.50px;font-family:'Liberation Sans',sans-serif;font-weight:400;font-size:22.5px;color:#000;transform:scaleX(0.9753);">Species Ranking</div>
<div class="t" style="left:783.51px;top:765.70px;font-family:'Liberation Sans',sans-serif;font-weight:400;font-size:29px;color:#000;transform:scaleX(0.9886);">213*/553</div>
<div class="t" style="left:257.00px;top:816.50px;font-family:'Liberation Sans',sans-serif;font-weight:400;font-size:16.5px;color:#444;transform:scaleX(0.9702);">Asterisk denotes that more than 1 species or variety shares this position</div>
<div class="t" style="left:110.89px;top:862.30px;font-family:'DejaVu Sans',sans-serif;font-weight:400;font-size:21px;color:#fff;transform:scaleX(0.9572);">Further Information</div>
<div class="t" style="left:111.97px;top:927.50px;font-family:'Liberation Sans',sans-serif;font-weight:400;font-size:16.7px;color:#3d3d3d;transform:scaleX(1.0261);width:765.49px;text-align:justify;text-align-last:justify;">Over the past 10 years, measurements from thousands of urban trees have been collected in towns and</div>
<div class="t" style="left:111.98px;top:954.70px;font-family:'Liberation Sans',sans-serif;font-weight:400;font-size:16.7px;color:#3d3d3d;transform:scaleX(1.0230);width:768.49px;text-align:justify;text-align-last:justify;">cities across the UK by Treeconomics and its project partners. This detailed information on tree structure</div>
<div class="t" style="left:111.97px;top:981.90px;font-family:'Liberation Sans',sans-serif;font-weight:400;font-size:16.7px;color:#3d3d3d;transform:scaleX(1.0300);width:763.01px;text-align:justify;text-align-last:justify;">(height, trunk diameter, species, crown dimensions etc) has been run through a sophisticated computer</div>
<div class="t" style="left:111.97px;top:1009.80px;font-family:'Liberation Sans',sans-serif;font-weight:400;font-size:16.7px;color:#3d3d3d;transform:scaleX(1.0300);width:763.01px;text-align:justify;text-align-last:justify;">model called i-Tree Eco. i-Tree Eco is a peer reviewed, open source and freely available software suite,</div>
<div class="t" style="left:111.98px;top:1037.10px;font-family:'Liberation Sans',sans-serif;font-weight:400;font-size:16.7px;color:#3d3d3d;transform:scaleX(1.0204);">used internationally to assess urban trees and calculate their benefits to society.</div>
<div class="t" style="left:111.96px;top:1091.20px;font-family:'Liberation Sans',sans-serif;font-weight:400;font-size:16.7px;color:#3d3d3d;transform:scaleX(1.0392);">For further information and detailed methodology go to: www.treeconomics.co.uk/treecarboncertificate/</div>
<div class="t" style="left:161.12px;top:285.90px;font-family:'Liberation Sans',sans-serif;font-weight:400;font-size:16px;color:#000;transform:scaleX(1.0650);">3000</div>
<div class="t" style="left:161.12px;top:358.90px;font-family:'Liberation Sans',sans-serif;font-weight:400;font-size:16px;color:#000;transform:scaleX(1.0650);">2250</div>
<div class="t" style="left:161.12px;top:431.90px;font-family:'Liberation Sans',sans-serif;font-weight:400;font-size:16px;color:#000;transform:scaleX(1.0650);">1500</div>
<div class="t" style="left:170.71px;top:504.90px;font-family:'Liberation Sans',sans-serif;font-weight:400;font-size:16px;color:#000;transform:scaleX(1.0650);">750</div>
<div class="t" style="left:189.88px;top:577.90px;font-family:'Liberation Sans',sans-serif;font-weight:400;font-size:16px;color:#000;transform:scaleX(1.0650);">0</div>
<div class="t" style="left:217.27px;top:598.60px;font-family:'Liberation Sans',sans-serif;font-weight:400;font-size:16px;color:#000;transform:scaleX(1.0300);">0</div>
<div class="t" style="left:263.63px;top:598.60px;font-family:'Liberation Sans',sans-serif;font-weight:400;font-size:16px;color:#000;transform:scaleX(1.0300);">10</div>
<div class="t" style="left:315.53px;top:598.60px;font-family:'Liberation Sans',sans-serif;font-weight:400;font-size:16px;color:#000;transform:scaleX(1.0300);">20</div>
<div class="t" style="left:366.73px;top:598.60px;font-family:'Liberation Sans',sans-serif;font-weight:400;font-size:16px;color:#000;transform:scaleX(1.0300);">30</div>
<div class="t" style="left:418.94px;top:598.60px;font-family:'Liberation Sans',sans-serif;font-weight:400;font-size:16px;color:#000;transform:scaleX(1.0300);">40</div>
<div class="t" style="left:470.53px;top:598.60px;font-family:'Liberation Sans',sans-serif;font-weight:400;font-size:16px;color:#000;transform:scaleX(1.0300);">50</div>
<div class="t" style="left:521.33px;top:598.60px;font-family:'Liberation Sans',sans-serif;font-weight:400;font-size:16px;color:#000;transform:scaleX(1.0300);">75</div>
<div class="t" style="left:568.89px;top:598.60px;font-family:'Liberation Sans',sans-serif;font-weight:400;font-size:16px;color:#000;transform:scaleX(1.0300);">100</div>
<div class="t" style="left:621.60px;top:598.60px;font-family:'Liberation Sans',sans-serif;font-weight:400;font-size:16px;color:#000;transform:scaleX(1.0300);">150</div>
<div class="t" style="left:131.30px;top:514.81px;font-family:'Liberation Sans',sans-serif;font-weight:400;font-size:16.5px;color:#000;transform:rotate(-90deg) scaleX(1.0122);">Carbon Storage (kg)</div>
</body>
</html>
